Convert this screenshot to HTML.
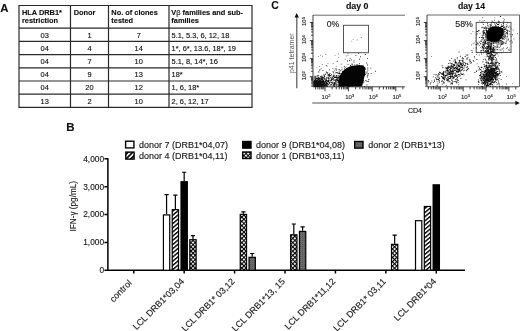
<!DOCTYPE html>
<html><head><meta charset="utf-8"><style>
html,body{margin:0;padding:0;background:#fff;width:520px;height:331px;overflow:hidden}
svg{display:block;font-family:"Liberation Sans", sans-serif;filter:blur(0.3px)}
text{stroke:#111;stroke-width:0.22px;stroke-opacity:0.6}
</style></head><body>
<svg width="520" height="331" viewBox="0 0 520 331" font-family='"Liberation Sans", sans-serif' fill="#111"><defs>
<filter id="bl2" x="-30%" y="-30%" width="160%" height="160%"><feGaussianBlur stdDeviation="2"/></filter>
<filter id="bl" x="-20%" y="-20%" width="140%" height="140%"><feGaussianBlur stdDeviation="0.7"/></filter>
<pattern id="hatch" patternUnits="userSpaceOnUse" width="3.2" height="3.2" patternTransform="rotate(-40)"><rect width="3.2" height="3.2" fill="#fff"/><rect width="3.2" height="1.4" fill="#000"/></pattern>
<pattern id="hatchL" patternUnits="userSpaceOnUse" width="3.3" height="3.3" patternTransform="translate(126 152) rotate(-45)"><rect width="3.3" height="3.3" fill="#000"/><rect y="2.5" width="3.3" height="0.8" fill="#fff"/><rect y="0" width="3.3" height="0.8" fill="#fff"/></pattern>
<pattern id="check" patternUnits="userSpaceOnUse" width="3" height="3" patternTransform="rotate(45)"><rect width="3" height="3" fill="#fff"/><rect width="3" height="1.1" fill="#000"/><rect width="1.1" height="3" fill="#000"/></pattern>
<pattern id="gray" patternUnits="userSpaceOnUse" width="2" height="2"><rect width="2" height="2" fill="#6a6a6a"/><rect width="1" height="1" fill="#555"/></pattern>
</defs><text x="0.2" y="11.8" font-size="11.4" font-weight="bold">A</text>
<path d="M18.4 5.5H252.6M18.4 28.2H252.6M18.4 41.4H252.6M18.4 54.6H252.6M18.4 67.8H252.6M18.4 81.0H252.6M18.4 94.2H252.6M18.4 107.4H252.6M19 5.5V107.4M70.5 5.5V107.4M108.5 5.5V107.4M169 5.5V107.4M252 5.5V107.4" stroke="#2a2a2a" stroke-width="1.2" fill="none"/>
<text font-size="7.42" font-weight="bold" x="21.9" y="14.8">HLA DRB1*</text>
<text font-size="7.42" font-weight="bold" x="21.9" y="22.6">restriction</text>
<text font-size="7.42" font-weight="bold" x="73.7" y="14.8">Donor</text>
<text font-size="7.42" font-weight="bold" x="111.3" y="14.8">No. of clones</text>
<text font-size="7.42" font-weight="bold" x="111.3" y="22.6">tested</text>
<text font-size="7.42" font-weight="bold" x="171.3" y="14.8">V<tspan font-weight="normal">&#946;</tspan> families and sub-</text>
<text font-size="7.42" font-weight="bold" x="171.3" y="22.6">families</text>
<text font-size="7.45" x="44.75" y="37.50" text-anchor="middle">03</text>
<text font-size="7.45" x="89.50" y="37.50" text-anchor="middle">1</text>
<text font-size="7.45" x="138.75" y="37.50" text-anchor="middle">7</text>
<text font-size="7.45" x="171.5" y="37.50">5.1, 5.3, 6, 12, 18</text>
<text font-size="7.45" x="44.75" y="50.70" text-anchor="middle">04</text>
<text font-size="7.45" x="89.50" y="50.70" text-anchor="middle">4</text>
<text font-size="7.45" x="138.75" y="50.70" text-anchor="middle">14</text>
<text font-size="7.45" x="171.5" y="50.70">1*, 6*, 13.6, 18*, 19</text>
<text font-size="7.45" x="44.75" y="63.90" text-anchor="middle">04</text>
<text font-size="7.45" x="89.50" y="63.90" text-anchor="middle">7</text>
<text font-size="7.45" x="138.75" y="63.90" text-anchor="middle">10</text>
<text font-size="7.45" x="171.5" y="63.90">5.1, 8, 14*, 16</text>
<text font-size="7.45" x="44.75" y="77.10" text-anchor="middle">04</text>
<text font-size="7.45" x="89.50" y="77.10" text-anchor="middle">9</text>
<text font-size="7.45" x="138.75" y="77.10" text-anchor="middle">13</text>
<text font-size="7.45" x="171.5" y="77.10">18*</text>
<text font-size="7.45" x="44.75" y="90.30" text-anchor="middle">04</text>
<text font-size="7.45" x="89.50" y="90.30" text-anchor="middle">20</text>
<text font-size="7.45" x="138.75" y="90.30" text-anchor="middle">12</text>
<text font-size="7.45" x="171.5" y="90.30">1, 6, 18*</text>
<text font-size="7.45" x="44.75" y="103.50" text-anchor="middle">13</text>
<text font-size="7.45" x="89.50" y="103.50" text-anchor="middle">2</text>
<text font-size="7.45" x="138.75" y="103.50" text-anchor="middle">10</text>
<text font-size="7.45" x="171.5" y="103.50">2, 6, 12, 17</text>
<text x="271.2" y="8.8" font-size="10.4" font-weight="bold">C</text>
<text x="357.2" y="8.8" font-size="8.8" font-weight="bold" text-anchor="middle">day 0</text>
<text x="471.5" y="8.9" font-size="8.7" font-weight="bold" text-anchor="middle">day 14</text>
<path d="M313 15.2H405M427 15H520M519.5 15V87" stroke="#6a6a6a" stroke-width="1" fill="none"/>
<path d="M313 15V86.8M313 86.8H404.8M309.8 76.7H313M309.8 58.6H313M309.8 40.6H313M309.8 22.5H313M311 86.15H313M311 83.89H313M311 82.14H313M311 80.71H313M311 79.50H313M311 78.45H313M311 77.53H313M311 71.26H313M311 68.08H313M311 65.82H313M311 64.07H313M311 62.64H313M311 61.43H313M311 60.38H313M311 59.46H313M311 53.19H313M311 50.01H313M311 47.75H313M311 46.00H313M311 44.57H313M311 43.36H313M311 42.31H313M311 41.39H313M311 35.12H313M311 31.94H313M311 29.68H313M311 27.93H313M311 26.50H313M311 25.29H313M311 24.24H313M311 23.32H313M325.0 86.8V91.3M348.6 86.8V91.3M372.2 86.8V91.3M395.8 86.8V91.3M315.61 86.8V89.4M317.90 86.8V89.4M319.76 86.8V89.4M321.34 86.8V89.4M322.71 86.8V89.4M323.92 86.8V89.4M332.10 86.8V89.4M336.26 86.8V89.4M339.21 86.8V89.4M341.50 86.8V89.4M343.36 86.8V89.4M344.94 86.8V89.4M346.31 86.8V89.4M347.52 86.8V89.4M355.70 86.8V89.4M359.86 86.8V89.4M362.81 86.8V89.4M365.10 86.8V89.4M366.96 86.8V89.4M368.54 86.8V89.4M369.91 86.8V89.4M371.12 86.8V89.4M379.30 86.8V89.4M383.46 86.8V89.4M386.41 86.8V89.4M388.70 86.8V89.4M390.56 86.8V89.4M392.14 86.8V89.4M393.51 86.8V89.4M394.72 86.8V89.4M402.90 86.8V89.4" stroke="#2a2a2a" stroke-width="0.9" fill="none"/>
<text font-size="6.0" transform="translate(306.1 80.2) rotate(-90)" fill="#333">10<tspan font-size="4.2" dy="-1.3">2</tspan></text>
<text font-size="6.0" transform="translate(306.1 62.1) rotate(-90)" fill="#333">10<tspan font-size="4.2" dy="-1.3">3</tspan></text>
<text font-size="6.0" transform="translate(306.1 44.1) rotate(-90)" fill="#333">10<tspan font-size="4.2" dy="-1.3">4</tspan></text>
<text font-size="6.0" transform="translate(306.1 26.0) rotate(-90)" fill="#333">10<tspan font-size="4.2" dy="-1.3">5</tspan></text>
<text font-size="6.0" x="321.60" y="98.9" fill="#333">10<tspan font-size="4.0" dy="-2.0">2</tspan></text>
<text font-size="6.0" x="345.20" y="98.9" fill="#333">10<tspan font-size="4.0" dy="-2.0">3</tspan></text>
<text font-size="6.0" x="368.80" y="98.9" fill="#333">10<tspan font-size="4.0" dy="-2.0">4</tspan></text>
<text font-size="6.0" x="392.40" y="98.9" fill="#333">10<tspan font-size="4.0" dy="-2.0">5</tspan></text>
<path d="M427 15V86.8M427 86.8H519M423.8 76.7H427M423.8 58.6H427M423.8 40.6H427M423.8 22.5H427M425 86.15H427M425 83.89H427M425 82.14H427M425 80.71H427M425 79.50H427M425 78.45H427M425 77.53H427M425 71.26H427M425 68.08H427M425 65.82H427M425 64.07H427M425 62.64H427M425 61.43H427M425 60.38H427M425 59.46H427M425 53.19H427M425 50.01H427M425 47.75H427M425 46.00H427M425 44.57H427M425 43.36H427M425 42.31H427M425 41.39H427M425 35.12H427M425 31.94H427M425 29.68H427M425 27.93H427M425 26.50H427M425 25.29H427M425 24.24H427M425 23.32H427M440.3 86.8V91.3M463.2 86.8V91.3M486.0 86.8V91.3M508.9 86.8V91.3M428.34 86.8V89.4M431.20 86.8V89.4M433.42 86.8V89.4M435.23 86.8V89.4M436.76 86.8V89.4M438.08 86.8V89.4M439.25 86.8V89.4M447.18 86.8V89.4M451.21 86.8V89.4M454.07 86.8V89.4M456.29 86.8V89.4M458.10 86.8V89.4M459.63 86.8V89.4M460.95 86.8V89.4M462.12 86.8V89.4M470.05 86.8V89.4M474.08 86.8V89.4M476.94 86.8V89.4M479.16 86.8V89.4M480.97 86.8V89.4M482.50 86.8V89.4M483.82 86.8V89.4M484.99 86.8V89.4M492.92 86.8V89.4M496.95 86.8V89.4M499.81 86.8V89.4M502.03 86.8V89.4M503.84 86.8V89.4M505.37 86.8V89.4M506.69 86.8V89.4M507.86 86.8V89.4M515.79 86.8V89.4" stroke="#2a2a2a" stroke-width="0.9" fill="none"/>
<text font-size="6.0" transform="translate(420.1 80.2) rotate(-90)" fill="#333">10<tspan font-size="4.2" dy="-1.3">2</tspan></text>
<text font-size="6.0" transform="translate(420.1 62.1) rotate(-90)" fill="#333">10<tspan font-size="4.2" dy="-1.3">3</tspan></text>
<text font-size="6.0" transform="translate(420.1 44.1) rotate(-90)" fill="#333">10<tspan font-size="4.2" dy="-1.3">4</tspan></text>
<text font-size="6.0" transform="translate(420.1 26.0) rotate(-90)" fill="#333">10<tspan font-size="4.2" dy="-1.3">5</tspan></text>
<text font-size="6.0" x="438.10" y="98.9" fill="#333">10<tspan font-size="4.0" dy="-2.0">2</tspan></text>
<text font-size="6.0" x="461.00" y="98.9" fill="#333">10<tspan font-size="4.0" dy="-2.0">3</tspan></text>
<text font-size="6.0" x="483.80" y="98.9" fill="#333">10<tspan font-size="4.0" dy="-2.0">4</tspan></text>
<text font-size="6.0" x="506.70" y="98.9" fill="#333">10<tspan font-size="4.0" dy="-2.0">5</tspan></text>
<rect x="343.5" y="25.3" width="25" height="27.4" fill="none" stroke="#555" stroke-width="1"/>
<rect x="476.2" y="22.4" width="34.8" height="30.1" fill="none" stroke="#555" stroke-width="1"/>
<text x="326.7" y="27.2" font-size="8.7" fill="#222">0%</text>
<text x="455.3" y="27.3" font-size="8.8" fill="#222">58%</text>
<path d="M296.8 17V88.2M312.2 103H516" stroke="#555" stroke-width="1.2" fill="none"/>
<path d="M296.7 13L294.5 17.4H298.9Z M519.8 103L515.4 100.8V105.2Z" fill="#111"/>
<text font-size="7.0" fill="#555" style="stroke-width:0" transform="translate(294 53.2) rotate(-90)" text-anchor="middle">p41 tetramer</text>
<text x="408" y="112.8" font-size="7" fill="#222">CD4</text>
<path d="M352.1 81.5h.9v.9h-.9zM349.3 76.9h.9v.9h-.9zM344.7 80.8h.9v.9h-.9zM361.4 74.4h.9v.9h-.9zM360.2 73.9h.9v.9h-.9zM355.4 76.6h.9v.9h-.9zM357.4 77.7h.9v.9h-.9zM333.7 76.3h.9v.9h-.9zM344.0 79.3h.9v.9h-.9zM354.0 75.8h.9v.9h-.9zM353.3 71.6h.9v.9h-.9zM355.6 78.1h.9v.9h-.9zM360.3 81.3h.9v.9h-.9zM344.9 76.5h.9v.9h-.9zM349.2 78.6h.9v.9h-.9zM357.3 75.8h.9v.9h-.9zM345.3 74.5h.9v.9h-.9zM347.2 82.7h.9v.9h-.9zM349.5 67.5h.9v.9h-.9zM357.1 84.3h.9v.9h-.9zM336.7 85.4h.9v.9h-.9zM348.3 73.6h.9v.9h-.9zM355.3 74.8h.9v.9h-.9zM360.2 79.4h.9v.9h-.9zM363.4 72.5h.9v.9h-.9zM348.1 70.0h.9v.9h-.9zM354.1 71.3h.9v.9h-.9zM344.2 72.9h.9v.9h-.9zM343.3 79.3h.9v.9h-.9zM353.6 60.4h.9v.9h-.9zM342.7 85.8h.9v.9h-.9zM364.2 73.7h.9v.9h-.9zM329.4 73.1h.9v.9h-.9zM351.8 71.8h.9v.9h-.9zM360.3 73.1h.9v.9h-.9zM355.3 78.7h.9v.9h-.9zM365.5 73.2h.9v.9h-.9zM357.6 77.9h.9v.9h-.9zM360.6 75.8h.9v.9h-.9zM335.8 83.6h.9v.9h-.9zM351.3 63.7h.9v.9h-.9zM354.5 83.9h.9v.9h-.9zM355.3 74.0h.9v.9h-.9zM356.7 79.4h.9v.9h-.9zM357.0 83.1h.9v.9h-.9zM345.8 78.5h.9v.9h-.9zM359.4 72.6h.9v.9h-.9zM360.6 68.1h.9v.9h-.9zM341.8 83.4h.9v.9h-.9zM349.9 76.6h.9v.9h-.9zM358.1 65.2h.9v.9h-.9zM356.2 64.6h.9v.9h-.9zM348.8 84.7h.9v.9h-.9zM363.1 76.7h.9v.9h-.9zM354.9 76.6h.9v.9h-.9zM355.2 79.9h.9v.9h-.9zM351.8 79.8h.9v.9h-.9zM356.0 74.8h.9v.9h-.9zM359.4 76.9h.9v.9h-.9zM367.3 69.6h.9v.9h-.9zM347.6 77.6h.9v.9h-.9zM355.3 82.5h.9v.9h-.9zM351.1 81.2h.9v.9h-.9zM355.5 54.9h.9v.9h-.9zM345.0 84.2h.9v.9h-.9zM355.7 76.9h.9v.9h-.9zM351.4 83.1h.9v.9h-.9zM352.1 73.3h.9v.9h-.9zM370.4 67.7h.9v.9h-.9zM347.7 79.6h.9v.9h-.9zM350.2 78.2h.9v.9h-.9zM354.8 66.4h.9v.9h-.9zM355.0 82.9h.9v.9h-.9zM363.5 81.4h.9v.9h-.9zM338.8 83.8h.9v.9h-.9zM351.9 82.5h.9v.9h-.9zM349.8 57.9h.9v.9h-.9zM354.3 64.5h.9v.9h-.9zM351.3 66.2h.9v.9h-.9zM357.6 83.1h.9v.9h-.9zM351.7 79.2h.9v.9h-.9zM358.1 74.4h.9v.9h-.9zM357.0 86.2h.9v.9h-.9zM358.3 70.9h.9v.9h-.9zM367.1 58.2h.9v.9h-.9zM357.4 71.7h.9v.9h-.9zM355.5 80.6h.9v.9h-.9zM355.9 79.9h.9v.9h-.9zM335.7 76.7h.9v.9h-.9zM352.8 69.4h.9v.9h-.9zM339.4 74.5h.9v.9h-.9zM363.6 75.4h.9v.9h-.9zM358.9 65.4h.9v.9h-.9zM347.8 71.4h.9v.9h-.9zM363.2 82.4h.9v.9h-.9zM358.3 71.8h.9v.9h-.9zM349.1 74.7h.9v.9h-.9zM356.3 77.8h.9v.9h-.9zM358.8 64.8h.9v.9h-.9zM365.4 80.0h.9v.9h-.9zM361.5 69.6h.9v.9h-.9zM353.3 77.6h.9v.9h-.9zM361.0 69.3h.9v.9h-.9zM352.0 72.7h.9v.9h-.9zM355.0 82.0h.9v.9h-.9zM357.4 84.2h.9v.9h-.9zM355.4 83.4h.9v.9h-.9zM368.4 79.0h.9v.9h-.9zM350.5 85.4h.9v.9h-.9zM334.9 80.7h.9v.9h-.9zM343.3 83.3h.9v.9h-.9zM350.5 78.3h.9v.9h-.9zM348.7 81.6h.9v.9h-.9zM364.7 69.1h.9v.9h-.9zM359.4 80.3h.9v.9h-.9zM346.0 71.7h.9v.9h-.9zM352.0 85.9h.9v.9h-.9zM338.3 82.2h.9v.9h-.9zM362.0 76.9h.9v.9h-.9zM355.0 81.8h.9v.9h-.9zM348.8 70.4h.9v.9h-.9zM338.7 81.6h.9v.9h-.9zM356.4 70.0h.9v.9h-.9zM342.8 77.7h.9v.9h-.9zM340.8 84.2h.9v.9h-.9zM345.1 85.1h.9v.9h-.9zM340.4 70.2h.9v.9h-.9zM356.1 72.5h.9v.9h-.9zM333.1 83.5h.9v.9h-.9zM352.4 73.6h.9v.9h-.9zM360.2 77.8h.9v.9h-.9zM357.9 76.1h.9v.9h-.9zM363.8 74.6h.9v.9h-.9zM347.5 64.2h.9v.9h-.9zM363.1 80.2h.9v.9h-.9zM348.2 76.4h.9v.9h-.9zM359.2 58.8h.9v.9h-.9zM348.0 85.7h.9v.9h-.9zM364.8 67.8h.9v.9h-.9zM359.2 79.6h.9v.9h-.9zM345.3 81.4h.9v.9h-.9zM357.1 80.5h.9v.9h-.9zM351.0 76.6h.9v.9h-.9zM343.6 80.5h.9v.9h-.9zM358.6 73.8h.9v.9h-.9zM342.9 77.1h.9v.9h-.9zM374.9 70.8h.9v.9h-.9zM347.0 60.5h.9v.9h-.9zM358.1 77.1h.9v.9h-.9zM365.4 71.7h.9v.9h-.9zM353.4 80.6h.9v.9h-.9zM351.7 72.2h.9v.9h-.9zM367.9 80.8h.9v.9h-.9zM339.7 80.7h.9v.9h-.9zM354.7 77.1h.9v.9h-.9zM345.6 74.2h.9v.9h-.9zM370.7 72.9h.9v.9h-.9zM338.7 76.0h.9v.9h-.9zM367.6 74.6h.9v.9h-.9zM367.7 73.1h.9v.9h-.9zM346.8 83.1h.9v.9h-.9zM334.1 83.9h.9v.9h-.9zM353.5 80.6h.9v.9h-.9zM346.4 80.3h.9v.9h-.9zM356.6 77.3h.9v.9h-.9zM357.2 75.6h.9v.9h-.9zM352.6 83.3h.9v.9h-.9zM349.3 72.8h.9v.9h-.9zM347.6 80.5h.9v.9h-.9zM351.8 78.9h.9v.9h-.9zM352.6 78.4h.9v.9h-.9zM346.4 71.4h.9v.9h-.9zM358.8 81.1h.9v.9h-.9zM354.4 74.4h.9v.9h-.9zM351.6 70.2h.9v.9h-.9zM348.2 85.9h.9v.9h-.9zM334.7 68.6h.9v.9h-.9zM344.3 72.0h.9v.9h-.9zM348.6 84.0h.9v.9h-.9zM356.1 76.1h.9v.9h-.9zM365.0 74.2h.9v.9h-.9zM354.0 80.8h.9v.9h-.9zM367.2 74.8h.9v.9h-.9zM355.2 66.8h.9v.9h-.9zM353.6 82.1h.9v.9h-.9zM353.8 84.7h.9v.9h-.9zM359.5 79.5h.9v.9h-.9zM359.9 70.4h.9v.9h-.9zM352.8 83.8h.9v.9h-.9zM358.9 72.8h.9v.9h-.9zM344.5 84.1h.9v.9h-.9zM358.7 81.8h.9v.9h-.9zM357.6 73.9h.9v.9h-.9zM360.0 76.3h.9v.9h-.9zM353.6 76.8h.9v.9h-.9zM352.8 82.3h.9v.9h-.9zM342.3 79.2h.9v.9h-.9zM346.7 69.6h.9v.9h-.9zM341.6 68.8h.9v.9h-.9zM349.3 83.8h.9v.9h-.9zM355.8 74.5h.9v.9h-.9zM345.2 71.0h.9v.9h-.9zM366.7 71.5h.9v.9h-.9zM356.4 67.5h.9v.9h-.9zM344.0 68.6h.9v.9h-.9zM360.9 78.8h.9v.9h-.9zM350.0 65.0h.9v.9h-.9zM335.3 80.5h.9v.9h-.9zM342.4 73.0h.9v.9h-.9zM353.1 78.7h.9v.9h-.9zM359.0 78.2h.9v.9h-.9zM366.8 76.5h.9v.9h-.9zM340.9 81.1h.9v.9h-.9zM340.6 76.8h.9v.9h-.9zM351.4 77.9h.9v.9h-.9zM349.6 66.6h.9v.9h-.9zM343.2 83.3h.9v.9h-.9zM349.5 76.8h.9v.9h-.9zM348.8 73.7h.9v.9h-.9zM358.2 76.0h.9v.9h-.9zM348.9 74.3h.9v.9h-.9zM340.8 63.7h.9v.9h-.9zM345.3 82.4h.9v.9h-.9zM342.2 85.8h.9v.9h-.9zM348.0 69.4h.9v.9h-.9zM349.1 77.0h.9v.9h-.9zM357.5 78.6h.9v.9h-.9zM348.6 73.1h.9v.9h-.9zM350.7 77.8h.9v.9h-.9zM358.2 75.6h.9v.9h-.9zM342.0 73.7h.9v.9h-.9zM346.7 75.3h.9v.9h-.9zM343.8 82.2h.9v.9h-.9zM348.9 80.4h.9v.9h-.9zM354.2 72.8h.9v.9h-.9zM367.1 64.6h.9v.9h-.9zM360.2 72.9h.9v.9h-.9zM351.1 59.4h.9v.9h-.9zM347.6 82.4h.9v.9h-.9zM359.0 82.8h.9v.9h-.9zM360.9 78.9h.9v.9h-.9zM355.0 74.2h.9v.9h-.9zM351.6 69.3h.9v.9h-.9zM356.6 66.4h.9v.9h-.9zM350.5 78.7h.9v.9h-.9zM360.3 72.1h.9v.9h-.9zM347.3 82.8h.9v.9h-.9zM358.7 78.5h.9v.9h-.9zM363.8 69.6h.9v.9h-.9zM352.3 73.9h.9v.9h-.9zM359.3 66.9h.9v.9h-.9zM355.0 71.7h.9v.9h-.9zM349.8 84.7h.9v.9h-.9zM361.3 71.0h.9v.9h-.9zM350.2 85.1h.9v.9h-.9zM352.8 79.4h.9v.9h-.9zM366.8 76.3h.9v.9h-.9zM354.9 81.7h.9v.9h-.9zM347.3 80.4h.9v.9h-.9zM357.1 64.4h.9v.9h-.9zM335.5 76.0h.9v.9h-.9zM358.6 69.4h.9v.9h-.9zM350.4 76.1h.9v.9h-.9zM347.2 72.2h.9v.9h-.9zM346.9 69.7h.9v.9h-.9zM352.6 79.5h.9v.9h-.9zM354.4 74.0h.9v.9h-.9zM346.2 82.7h.9v.9h-.9zM357.0 73.2h.9v.9h-.9zM346.1 76.0h.9v.9h-.9zM344.1 80.1h.9v.9h-.9zM356.0 78.9h.9v.9h-.9zM363.7 86.0h.9v.9h-.9zM347.1 81.0h.9v.9h-.9zM364.8 54.1h.9v.9h-.9zM349.0 80.9h.9v.9h-.9zM354.6 78.9h.9v.9h-.9zM351.7 80.6h.9v.9h-.9zM355.2 81.4h.9v.9h-.9zM335.5 81.8h.9v.9h-.9zM348.2 72.0h.9v.9h-.9zM347.0 85.9h.9v.9h-.9zM349.8 84.0h.9v.9h-.9zM358.4 75.6h.9v.9h-.9zM355.2 74.5h.9v.9h-.9zM342.0 84.1h.9v.9h-.9zM353.2 72.5h.9v.9h-.9zM354.1 82.0h.9v.9h-.9zM348.2 85.1h.9v.9h-.9zM363.0 65.6h.9v.9h-.9zM352.5 76.0h.9v.9h-.9zM364.0 71.8h.9v.9h-.9zM355.8 69.5h.9v.9h-.9zM351.9 77.5h.9v.9h-.9zM351.9 63.8h.9v.9h-.9zM356.7 73.2h.9v.9h-.9zM356.5 77.3h.9v.9h-.9zM340.7 83.6h.9v.9h-.9zM360.4 67.3h.9v.9h-.9zM339.8 75.1h.9v.9h-.9zM344.7 85.2h.9v.9h-.9zM365.5 71.7h.9v.9h-.9zM345.9 76.4h.9v.9h-.9zM357.7 77.9h.9v.9h-.9zM340.6 76.1h.9v.9h-.9zM354.9 77.4h.9v.9h-.9zM342.1 82.7h.9v.9h-.9zM349.9 82.6h.9v.9h-.9zM350.9 77.6h.9v.9h-.9zM353.4 84.8h.9v.9h-.9zM360.4 68.9h.9v.9h-.9zM355.2 69.4h.9v.9h-.9zM355.3 81.2h.9v.9h-.9zM361.2 68.2h.9v.9h-.9zM352.2 78.9h.9v.9h-.9zM341.5 84.8h.9v.9h-.9zM348.6 82.7h.9v.9h-.9zM336.8 72.3h.9v.9h-.9zM353.2 78.7h.9v.9h-.9zM351.4 84.9h.9v.9h-.9zM347.9 75.6h.9v.9h-.9zM349.6 66.8h.9v.9h-.9zM347.2 80.6h.9v.9h-.9zM357.4 72.6h.9v.9h-.9zM351.8 72.5h.9v.9h-.9zM360.2 85.0h.9v.9h-.9zM347.5 80.7h.9v.9h-.9zM357.0 82.2h.9v.9h-.9zM335.6 72.2h.9v.9h-.9zM359.2 78.9h.9v.9h-.9zM354.4 77.9h.9v.9h-.9zM359.9 75.0h.9v.9h-.9zM359.1 62.9h.9v.9h-.9zM336.7 60.8h.9v.9h-.9zM356.3 71.6h.9v.9h-.9zM366.4 84.6h.9v.9h-.9zM351.0 76.2h.9v.9h-.9zM345.4 75.4h.9v.9h-.9zM349.9 84.0h.9v.9h-.9zM352.5 77.7h.9v.9h-.9zM354.1 83.2h.9v.9h-.9zM354.9 74.4h.9v.9h-.9zM356.1 73.5h.9v.9h-.9zM351.8 70.1h.9v.9h-.9zM360.8 74.2h.9v.9h-.9zM357.6 80.7h.9v.9h-.9zM352.8 75.7h.9v.9h-.9zM351.2 75.8h.9v.9h-.9zM354.7 76.2h.9v.9h-.9zM355.4 72.3h.9v.9h-.9zM343.9 66.2h.9v.9h-.9zM351.5 83.2h.9v.9h-.9zM360.0 69.1h.9v.9h-.9zM352.4 83.0h.9v.9h-.9zM363.9 69.7h.9v.9h-.9zM358.0 67.8h.9v.9h-.9zM353.2 76.1h.9v.9h-.9zM357.0 83.0h.9v.9h-.9zM366.3 62.5h.9v.9h-.9zM349.8 82.9h.9v.9h-.9zM346.4 85.2h.9v.9h-.9zM355.0 73.3h.9v.9h-.9zM350.0 66.6h.9v.9h-.9zM351.7 65.6h.9v.9h-.9zM345.1 77.9h.9v.9h-.9zM352.3 84.0h.9v.9h-.9zM351.1 75.0h.9v.9h-.9zM361.6 83.4h.9v.9h-.9zM353.4 79.4h.9v.9h-.9zM361.7 73.0h.9v.9h-.9zM360.2 56.3h.9v.9h-.9zM353.3 79.9h.9v.9h-.9zM361.2 76.5h.9v.9h-.9zM346.2 73.2h.9v.9h-.9zM356.5 82.5h.9v.9h-.9zM340.6 77.2h.9v.9h-.9zM344.7 67.2h.9v.9h-.9zM348.6 76.4h.9v.9h-.9zM352.6 71.6h.9v.9h-.9zM344.4 79.6h.9v.9h-.9zM349.2 74.2h.9v.9h-.9zM354.8 81.5h.9v.9h-.9zM366.6 81.0h.9v.9h-.9zM345.0 79.0h.9v.9h-.9zM346.8 80.8h.9v.9h-.9zM350.7 67.7h.9v.9h-.9zM355.2 75.1h.9v.9h-.9zM353.5 61.7h.9v.9h-.9zM358.4 74.7h.9v.9h-.9zM357.0 77.6h.9v.9h-.9zM360.3 70.0h.9v.9h-.9zM356.6 71.1h.9v.9h-.9zM354.1 69.6h.9v.9h-.9zM354.5 74.5h.9v.9h-.9zM341.1 78.8h.9v.9h-.9zM356.8 81.6h.9v.9h-.9zM356.9 78.3h.9v.9h-.9zM356.7 85.0h.9v.9h-.9zM347.2 76.4h.9v.9h-.9zM358.5 73.6h.9v.9h-.9zM347.9 75.7h.9v.9h-.9zM352.5 82.1h.9v.9h-.9zM350.0 69.3h.9v.9h-.9zM355.6 76.4h.9v.9h-.9zM348.8 77.0h.9v.9h-.9zM362.4 80.8h.9v.9h-.9zM348.8 83.2h.9v.9h-.9zM350.4 85.0h.9v.9h-.9zM358.2 53.2h.9v.9h-.9zM350.8 82.3h.9v.9h-.9zM348.9 74.4h.9v.9h-.9zM367.4 67.6h.9v.9h-.9zM348.5 81.0h.9v.9h-.9zM361.3 72.1h.9v.9h-.9zM336.0 75.1h.9v.9h-.9zM363.0 75.8h.9v.9h-.9zM349.4 86.0h.9v.9h-.9zM357.9 78.6h.9v.9h-.9zM361.0 77.1h.9v.9h-.9zM349.2 60.1h.9v.9h-.9zM340.7 82.0h.9v.9h-.9zM350.2 76.2h.9v.9h-.9zM338.7 80.1h.9v.9h-.9zM343.5 78.2h.9v.9h-.9zM344.6 76.8h.9v.9h-.9zM341.1 77.9h.9v.9h-.9zM340.6 77.2h.9v.9h-.9zM333.6 84.4h.9v.9h-.9zM341.2 77.8h.9v.9h-.9zM340.8 84.0h.9v.9h-.9zM336.1 79.6h.9v.9h-.9zM342.2 82.1h.9v.9h-.9zM338.7 71.6h.9v.9h-.9zM345.0 81.3h.9v.9h-.9zM340.1 78.9h.9v.9h-.9zM341.1 78.3h.9v.9h-.9zM335.9 77.0h.9v.9h-.9zM337.6 77.6h.9v.9h-.9zM335.4 82.5h.9v.9h-.9zM334.8 82.6h.9v.9h-.9zM335.9 81.4h.9v.9h-.9zM345.5 80.8h.9v.9h-.9zM337.1 80.2h.9v.9h-.9zM340.6 73.1h.9v.9h-.9zM337.6 80.7h.9v.9h-.9zM338.1 80.3h.9v.9h-.9zM342.9 83.1h.9v.9h-.9zM343.6 82.4h.9v.9h-.9zM338.8 79.9h.9v.9h-.9zM338.9 78.7h.9v.9h-.9zM339.3 73.1h.9v.9h-.9zM338.7 79.9h.9v.9h-.9zM336.1 79.9h.9v.9h-.9zM342.1 79.3h.9v.9h-.9zM348.3 69.6h.9v.9h-.9zM339.2 72.7h.9v.9h-.9zM330.0 80.5h.9v.9h-.9zM342.1 78.8h.9v.9h-.9zM342.2 71.0h.9v.9h-.9zM343.4 81.5h.9v.9h-.9zM340.1 77.6h.9v.9h-.9zM342.6 78.1h.9v.9h-.9zM340.9 78.0h.9v.9h-.9zM331.0 79.9h.9v.9h-.9zM340.8 83.0h.9v.9h-.9zM336.5 79.9h.9v.9h-.9zM342.5 80.6h.9v.9h-.9zM336.4 72.3h.9v.9h-.9zM343.4 86.1h.9v.9h-.9zM343.7 83.3h.9v.9h-.9zM337.5 77.1h.9v.9h-.9zM343.6 76.4h.9v.9h-.9zM332.7 76.0h.9v.9h-.9zM337.3 77.1h.9v.9h-.9zM340.9 77.0h.9v.9h-.9zM345.2 79.7h.9v.9h-.9zM335.7 85.2h.9v.9h-.9zM337.7 80.9h.9v.9h-.9zM339.9 78.7h.9v.9h-.9zM341.3 77.2h.9v.9h-.9zM332.6 71.2h.9v.9h-.9zM334.9 77.0h.9v.9h-.9zM339.9 80.2h.9v.9h-.9zM342.2 80.5h.9v.9h-.9zM336.8 77.2h.9v.9h-.9zM331.5 79.3h.9v.9h-.9zM341.9 82.1h.9v.9h-.9zM339.5 79.3h.9v.9h-.9zM343.7 80.1h.9v.9h-.9zM343.0 82.3h.9v.9h-.9zM340.9 85.2h.9v.9h-.9zM337.7 78.6h.9v.9h-.9zM336.8 76.8h.9v.9h-.9zM340.1 82.3h.9v.9h-.9zM344.7 83.2h.9v.9h-.9zM344.8 74.9h.9v.9h-.9zM337.4 81.8h.9v.9h-.9zM345.7 80.4h.9v.9h-.9zM336.6 78.6h.9v.9h-.9zM337.4 76.6h.9v.9h-.9zM346.0 77.5h.9v.9h-.9zM344.7 81.3h.9v.9h-.9zM337.6 81.6h.9v.9h-.9zM346.5 82.5h.9v.9h-.9zM345.0 80.4h.9v.9h-.9zM342.1 79.2h.9v.9h-.9zM341.7 85.2h.9v.9h-.9zM334.3 79.7h.9v.9h-.9zM341.0 77.7h.9v.9h-.9zM338.8 83.1h.9v.9h-.9zM348.0 82.5h.9v.9h-.9zM341.3 73.8h.9v.9h-.9zM347.7 80.3h.9v.9h-.9zM339.9 75.5h.9v.9h-.9zM339.8 75.6h.9v.9h-.9zM340.3 81.9h.9v.9h-.9zM340.1 81.1h.9v.9h-.9zM336.6 85.7h.9v.9h-.9zM337.4 72.7h.9v.9h-.9zM339.2 76.9h.9v.9h-.9zM336.0 78.6h.9v.9h-.9zM341.2 75.3h.9v.9h-.9zM339.4 85.7h.9v.9h-.9zM342.7 79.4h.9v.9h-.9zM340.5 79.5h.9v.9h-.9zM339.8 82.9h.9v.9h-.9zM339.6 70.4h.9v.9h-.9zM339.9 76.4h.9v.9h-.9zM342.6 77.6h.9v.9h-.9zM335.8 75.5h.9v.9h-.9zM334.4 70.4h.9v.9h-.9zM332.5 81.5h.9v.9h-.9zM337.4 72.5h.9v.9h-.9zM334.1 82.5h.9v.9h-.9zM336.9 78.5h.9v.9h-.9zM341.3 85.4h.9v.9h-.9zM347.8 84.1h.9v.9h-.9zM340.6 80.7h.9v.9h-.9zM347.2 85.7h.9v.9h-.9zM338.8 81.8h.9v.9h-.9zM317.7 84.2h.9v.9h-.9zM323.3 85.7h.9v.9h-.9zM321.4 77.9h.9v.9h-.9zM328.4 80.1h.9v.9h-.9zM319.2 85.4h.9v.9h-.9zM317.2 84.5h.9v.9h-.9zM322.3 79.2h.9v.9h-.9zM318.2 84.9h.9v.9h-.9zM316.2 81.8h.9v.9h-.9zM320.6 84.3h.9v.9h-.9zM322.9 83.2h.9v.9h-.9zM321.0 80.4h.9v.9h-.9zM322.1 84.6h.9v.9h-.9zM317.7 82.9h.9v.9h-.9zM317.6 82.2h.9v.9h-.9zM320.0 84.0h.9v.9h-.9zM317.3 75.2h.9v.9h-.9zM323.0 84.1h.9v.9h-.9zM315.1 86.2h.9v.9h-.9zM313.8 80.4h.9v.9h-.9zM318.0 83.1h.9v.9h-.9zM317.0 83.5h.9v.9h-.9zM321.8 81.8h.9v.9h-.9zM316.2 79.4h.9v.9h-.9zM317.2 79.8h.9v.9h-.9zM319.3 82.4h.9v.9h-.9zM318.0 85.5h.9v.9h-.9zM314.2 85.8h.9v.9h-.9zM325.6 83.2h.9v.9h-.9zM320.7 85.9h.9v.9h-.9zM326.6 83.4h.9v.9h-.9zM315.3 80.6h.9v.9h-.9zM319.2 85.4h.9v.9h-.9zM314.8 84.5h.9v.9h-.9zM321.3 82.1h.9v.9h-.9zM313.9 77.5h.9v.9h-.9zM317.4 79.1h.9v.9h-.9zM321.4 80.1h.9v.9h-.9zM321.1 85.9h.9v.9h-.9zM317.9 79.0h.9v.9h-.9zM317.0 80.9h.9v.9h-.9zM323.3 85.0h.9v.9h-.9zM322.8 82.6h.9v.9h-.9zM319.5 80.6h.9v.9h-.9zM314.7 84.9h.9v.9h-.9zM322.2 84.3h.9v.9h-.9zM322.8 82.6h.9v.9h-.9zM319.1 79.8h.9v.9h-.9zM320.6 78.7h.9v.9h-.9zM318.8 81.4h.9v.9h-.9zM318.8 82.0h.9v.9h-.9zM325.6 84.1h.9v.9h-.9zM326.6 81.3h.9v.9h-.9zM326.5 86.1h.9v.9h-.9zM324.7 80.9h.9v.9h-.9zM315.3 83.6h.9v.9h-.9zM330.7 84.6h.9v.9h-.9zM318.7 85.1h.9v.9h-.9zM314.0 85.5h.9v.9h-.9zM324.8 80.8h.9v.9h-.9zM318.7 78.1h.9v.9h-.9zM316.3 85.7h.9v.9h-.9zM313.9 84.0h.9v.9h-.9zM327.5 84.3h.9v.9h-.9zM318.3 83.7h.9v.9h-.9zM324.1 84.8h.9v.9h-.9zM317.3 83.5h.9v.9h-.9zM314.3 79.6h.9v.9h-.9zM318.3 81.6h.9v.9h-.9zM318.9 81.1h.9v.9h-.9zM325.3 85.3h.9v.9h-.9zM321.7 81.4h.9v.9h-.9zM320.8 84.8h.9v.9h-.9zM319.9 84.1h.9v.9h-.9zM323.2 81.9h.9v.9h-.9zM323.0 81.6h.9v.9h-.9zM314.3 82.0h.9v.9h-.9zM316.2 82.5h.9v.9h-.9zM316.7 84.8h.9v.9h-.9zM318.0 77.0h.9v.9h-.9zM320.6 79.0h.9v.9h-.9zM323.3 85.4h.9v.9h-.9zM318.9 84.4h.9v.9h-.9zM318.9 80.1h.9v.9h-.9zM321.7 82.3h.9v.9h-.9zM321.9 84.3h.9v.9h-.9zM322.8 83.6h.9v.9h-.9zM313.6 84.8h.9v.9h-.9zM316.6 84.5h.9v.9h-.9zM325.1 84.1h.9v.9h-.9zM316.8 84.4h.9v.9h-.9zM315.1 81.7h.9v.9h-.9zM315.6 81.9h.9v.9h-.9zM325.8 85.7h.9v.9h-.9zM315.7 82.7h.9v.9h-.9zM315.8 83.5h.9v.9h-.9zM324.7 84.4h.9v.9h-.9zM317.0 82.8h.9v.9h-.9zM313.9 84.1h.9v.9h-.9zM325.9 82.1h.9v.9h-.9zM327.2 83.1h.9v.9h-.9zM317.7 81.6h.9v.9h-.9zM320.7 84.0h.9v.9h-.9zM321.1 77.9h.9v.9h-.9zM327.0 85.6h.9v.9h-.9zM320.6 78.0h.9v.9h-.9zM322.5 79.3h.9v.9h-.9zM314.6 85.1h.9v.9h-.9zM320.0 83.0h.9v.9h-.9zM317.7 80.6h.9v.9h-.9zM316.6 81.7h.9v.9h-.9zM321.5 81.4h.9v.9h-.9zM317.5 85.9h.9v.9h-.9zM317.1 84.8h.9v.9h-.9zM321.8 83.9h.9v.9h-.9zM316.8 82.2h.9v.9h-.9zM314.8 83.9h.9v.9h-.9zM333.9 86.0h.9v.9h-.9zM320.6 81.2h.9v.9h-.9zM317.2 80.7h.9v.9h-.9zM325.7 82.2h.9v.9h-.9zM322.5 76.5h.9v.9h-.9zM316.0 84.9h.9v.9h-.9zM317.1 85.9h.9v.9h-.9zM317.7 84.5h.9v.9h-.9zM317.8 83.4h.9v.9h-.9zM334.1 81.9h.9v.9h-.9zM316.3 84.9h.9v.9h-.9zM326.7 80.0h.9v.9h-.9zM317.0 83.2h.9v.9h-.9zM318.1 79.1h.9v.9h-.9zM319.2 84.6h.9v.9h-.9zM316.4 76.4h.9v.9h-.9zM313.8 81.6h.9v.9h-.9zM320.2 85.7h.9v.9h-.9zM315.9 85.6h.9v.9h-.9zM316.2 85.8h.9v.9h-.9zM315.6 83.5h.9v.9h-.9zM315.2 81.9h.9v.9h-.9zM329.4 85.6h.9v.9h-.9zM324.4 79.0h.9v.9h-.9zM320.6 80.2h.9v.9h-.9zM319.0 80.7h.9v.9h-.9zM313.7 82.7h.9v.9h-.9zM316.4 85.1h.9v.9h-.9zM314.3 80.0h.9v.9h-.9zM318.7 86.1h.9v.9h-.9zM318.9 81.6h.9v.9h-.9zM314.0 82.1h.9v.9h-.9zM315.8 86.1h.9v.9h-.9zM329.7 83.9h.9v.9h-.9zM320.1 85.5h.9v.9h-.9zM317.6 83.3h.9v.9h-.9zM315.3 81.4h.9v.9h-.9zM317.1 83.9h.9v.9h-.9zM317.9 81.3h.9v.9h-.9zM316.2 84.2h.9v.9h-.9zM319.6 80.6h.9v.9h-.9zM319.6 82.8h.9v.9h-.9zM315.1 81.9h.9v.9h-.9zM318.3 84.7h.9v.9h-.9zM315.4 86.1h.9v.9h-.9zM319.0 80.1h.9v.9h-.9zM316.7 85.1h.9v.9h-.9zM315.3 80.7h.9v.9h-.9zM315.6 82.9h.9v.9h-.9zM318.0 81.3h.9v.9h-.9zM322.5 78.6h.9v.9h-.9zM314.9 84.0h.9v.9h-.9zM321.8 82.1h.9v.9h-.9zM319.3 82.2h.9v.9h-.9zM323.3 84.1h.9v.9h-.9zM320.9 78.1h.9v.9h-.9zM322.7 82.9h.9v.9h-.9zM314.8 83.8h.9v.9h-.9zM320.2 83.5h.9v.9h-.9zM317.2 85.4h.9v.9h-.9zM318.7 84.3h.9v.9h-.9zM314.8 82.0h.9v.9h-.9zM324.1 84.5h.9v.9h-.9zM315.2 82.6h.9v.9h-.9zM322.5 80.3h.9v.9h-.9zM319.0 84.5h.9v.9h-.9zM315.4 85.6h.9v.9h-.9zM315.9 82.1h.9v.9h-.9zM322.5 77.3h.9v.9h-.9zM319.9 80.7h.9v.9h-.9zM316.9 81.1h.9v.9h-.9zM320.4 77.3h.9v.9h-.9zM320.6 78.3h.9v.9h-.9zM322.8 85.3h.9v.9h-.9zM329.5 82.0h.9v.9h-.9zM313.8 83.8h.9v.9h-.9zM319.3 84.2h.9v.9h-.9zM326.2 83.0h.9v.9h-.9zM323.8 82.3h.9v.9h-.9zM320.5 77.8h.9v.9h-.9zM317.2 83.4h.9v.9h-.9zM313.9 81.7h.9v.9h-.9zM320.7 83.2h.9v.9h-.9zM322.9 83.0h.9v.9h-.9zM318.3 85.2h.9v.9h-.9zM322.4 86.1h.9v.9h-.9zM320.4 80.3h.9v.9h-.9zM321.6 84.2h.9v.9h-.9zM318.9 82.2h.9v.9h-.9zM317.2 85.0h.9v.9h-.9zM320.5 81.5h.9v.9h-.9zM321.5 85.2h.9v.9h-.9zM319.3 85.4h.9v.9h-.9zM325.5 82.7h.9v.9h-.9zM319.1 80.5h.9v.9h-.9zM315.3 78.7h.9v.9h-.9zM316.4 80.4h.9v.9h-.9zM318.1 79.1h.9v.9h-.9zM318.7 83.1h.9v.9h-.9zM316.4 83.8h.9v.9h-.9zM316.8 79.8h.9v.9h-.9zM318.6 77.6h.9v.9h-.9zM315.2 81.4h.9v.9h-.9zM318.7 77.9h.9v.9h-.9zM313.8 83.3h.9v.9h-.9zM320.7 82.6h.9v.9h-.9zM322.3 78.9h.9v.9h-.9zM319.9 83.4h.9v.9h-.9zM317.9 84.1h.9v.9h-.9zM325.1 81.4h.9v.9h-.9zM313.6 81.1h.9v.9h-.9zM320.7 85.8h.9v.9h-.9zM322.8 83.2h.9v.9h-.9zM321.5 83.9h.9v.9h-.9zM327.1 83.2h.9v.9h-.9zM323.2 81.0h.9v.9h-.9zM323.8 75.2h.9v.9h-.9zM320.8 81.8h.9v.9h-.9zM317.4 85.9h.9v.9h-.9zM314.8 83.3h.9v.9h-.9zM321.1 84.1h.9v.9h-.9zM320.4 80.4h.9v.9h-.9zM314.0 82.2h.9v.9h-.9zM318.5 85.3h.9v.9h-.9zM316.2 82.5h.9v.9h-.9zM319.0 85.2h.9v.9h-.9zM316.9 84.2h.9v.9h-.9zM316.7 81.2h.9v.9h-.9zM314.8 81.1h.9v.9h-.9zM316.0 85.0h.9v.9h-.9zM326.7 81.4h.9v.9h-.9zM318.1 81.5h.9v.9h-.9zM315.2 81.8h.9v.9h-.9zM316.2 86.0h.9v.9h-.9zM320.9 83.5h.9v.9h-.9zM314.2 84.7h.9v.9h-.9zM316.1 84.9h.9v.9h-.9zM320.0 85.4h.9v.9h-.9zM317.6 82.6h.9v.9h-.9zM317.2 82.2h.9v.9h-.9zM314.7 81.6h.9v.9h-.9zM322.4 81.5h.9v.9h-.9zM318.1 82.8h.9v.9h-.9zM314.0 84.9h.9v.9h-.9zM315.4 85.1h.9v.9h-.9zM314.4 86.1h.9v.9h-.9zM324.7 81.0h.9v.9h-.9zM324.8 79.7h.9v.9h-.9zM319.3 85.9h.9v.9h-.9zM324.9 84.9h.9v.9h-.9zM314.6 81.7h.9v.9h-.9zM319.2 81.6h.9v.9h-.9zM315.1 79.0h.9v.9h-.9zM317.7 84.2h.9v.9h-.9zM318.1 85.8h.9v.9h-.9zM321.0 84.7h.9v.9h-.9zM320.2 80.5h.9v.9h-.9zM315.0 81.6h.9v.9h-.9zM315.8 84.1h.9v.9h-.9zM321.2 79.2h.9v.9h-.9zM315.6 84.9h.9v.9h-.9zM321.0 80.5h.9v.9h-.9zM320.3 84.7h.9v.9h-.9zM316.0 82.6h.9v.9h-.9zM314.0 81.0h.9v.9h-.9zM315.8 78.0h.9v.9h-.9zM315.5 85.4h.9v.9h-.9zM321.9 82.9h.9v.9h-.9zM324.3 81.9h.9v.9h-.9zM315.2 78.0h.9v.9h-.9zM324.8 85.7h.9v.9h-.9zM318.8 83.3h.9v.9h-.9zM316.1 83.0h.9v.9h-.9zM324.4 83.1h.9v.9h-.9zM321.3 85.1h.9v.9h-.9zM314.8 85.6h.9v.9h-.9zM313.6 79.4h.9v.9h-.9zM321.1 82.8h.9v.9h-.9zM317.1 78.0h.9v.9h-.9zM319.7 85.7h.9v.9h-.9zM320.5 85.0h.9v.9h-.9zM313.6 85.5h.9v.9h-.9zM316.8 84.2h.9v.9h-.9zM326.0 83.7h.9v.9h-.9zM323.7 83.5h.9v.9h-.9zM315.3 83.9h.9v.9h-.9zM323.6 81.8h.9v.9h-.9zM316.1 85.7h.9v.9h-.9zM326.2 85.0h.9v.9h-.9zM318.7 81.7h.9v.9h-.9zM323.8 78.0h.9v.9h-.9zM320.8 79.4h.9v.9h-.9zM314.2 85.8h.9v.9h-.9zM318.4 81.5h.9v.9h-.9zM316.1 84.9h.9v.9h-.9zM320.0 79.5h.9v.9h-.9zM328.0 79.7h.9v.9h-.9zM313.9 83.4h.9v.9h-.9zM314.6 82.2h.9v.9h-.9zM317.4 84.5h.9v.9h-.9zM315.9 83.8h.9v.9h-.9zM322.4 78.7h.9v.9h-.9zM317.5 80.7h.9v.9h-.9zM319.0 82.9h.9v.9h-.9zM316.9 85.3h.9v.9h-.9zM328.9 82.7h.9v.9h-.9zM326.8 77.5h.9v.9h-.9zM324.1 82.9h.9v.9h-.9zM316.8 83.0h.9v.9h-.9zM322.6 82.9h.9v.9h-.9zM319.8 84.4h.9v.9h-.9zM318.9 85.3h.9v.9h-.9zM321.8 81.4h.9v.9h-.9zM315.9 85.4h.9v.9h-.9zM313.9 83.3h.9v.9h-.9zM314.0 84.7h.9v.9h-.9zM316.1 82.4h.9v.9h-.9zM325.6 83.7h.9v.9h-.9zM323.5 83.0h.9v.9h-.9zM316.5 82.3h.9v.9h-.9zM316.3 82.9h.9v.9h-.9zM324.0 84.4h.9v.9h-.9zM314.3 80.7h.9v.9h-.9zM322.4 81.1h.9v.9h-.9zM321.4 81.0h.9v.9h-.9zM326.5 80.8h.9v.9h-.9zM320.2 86.2h.9v.9h-.9zM314.8 76.2h.9v.9h-.9zM315.7 83.1h.9v.9h-.9zM313.8 83.1h.9v.9h-.9zM313.9 81.8h.9v.9h-.9zM320.2 80.4h.9v.9h-.9zM316.9 84.4h.9v.9h-.9zM321.3 81.2h.9v.9h-.9zM316.9 83.8h.9v.9h-.9zM314.1 85.5h.9v.9h-.9zM316.5 83.2h.9v.9h-.9zM319.4 81.4h.9v.9h-.9zM321.8 80.9h.9v.9h-.9zM320.8 85.3h.9v.9h-.9zM314.5 83.5h.9v.9h-.9zM323.9 84.2h.9v.9h-.9zM315.4 84.6h.9v.9h-.9zM319.2 84.5h.9v.9h-.9zM313.7 81.8h.9v.9h-.9zM317.6 84.0h.9v.9h-.9zM323.2 80.0h.9v.9h-.9zM319.4 77.8h.9v.9h-.9zM324.4 82.2h.9v.9h-.9zM315.5 80.2h.9v.9h-.9zM321.1 85.1h.9v.9h-.9zM314.1 85.4h.9v.9h-.9zM328.1 84.3h.9v.9h-.9zM317.1 85.0h.9v.9h-.9zM314.9 80.0h.9v.9h-.9zM321.1 82.9h.9v.9h-.9zM323.0 82.0h.9v.9h-.9zM319.3 85.0h.9v.9h-.9zM322.3 85.5h.9v.9h-.9zM319.9 82.5h.9v.9h-.9zM315.9 84.7h.9v.9h-.9zM318.4 86.2h.9v.9h-.9zM314.8 81.8h.9v.9h-.9zM313.6 82.3h.9v.9h-.9zM314.4 75.8h.9v.9h-.9zM314.0 83.2h.9v.9h-.9zM320.5 77.9h.9v.9h-.9zM314.2 85.5h.9v.9h-.9zM322.1 80.8h.9v.9h-.9zM319.7 83.0h.9v.9h-.9zM313.6 81.4h.9v.9h-.9zM321.8 85.2h.9v.9h-.9zM324.1 85.3h.9v.9h-.9zM315.0 84.1h.9v.9h-.9zM322.9 82.1h.9v.9h-.9zM318.0 83.9h.9v.9h-.9zM314.7 85.2h.9v.9h-.9zM317.9 85.5h.9v.9h-.9zM316.3 82.6h.9v.9h-.9zM318.5 80.9h.9v.9h-.9zM315.7 81.5h.9v.9h-.9zM316.8 81.3h.9v.9h-.9zM318.3 75.3h.9v.9h-.9zM316.5 84.3h.9v.9h-.9zM316.9 81.0h.9v.9h-.9zM320.3 83.8h.9v.9h-.9zM316.1 82.6h.9v.9h-.9zM319.2 84.3h.9v.9h-.9zM322.6 85.4h.9v.9h-.9zM321.3 82.9h.9v.9h-.9zM318.2 85.6h.9v.9h-.9zM315.0 76.8h.9v.9h-.9zM316.8 84.7h.9v.9h-.9zM316.8 81.7h.9v.9h-.9zM323.0 83.6h.9v.9h-.9zM318.1 80.6h.9v.9h-.9zM323.9 85.8h.9v.9h-.9zM323.2 85.5h.9v.9h-.9zM323.9 82.5h.9v.9h-.9zM316.5 86.1h.9v.9h-.9zM316.5 79.4h.9v.9h-.9zM319.2 82.2h.9v.9h-.9zM316.1 78.0h.9v.9h-.9zM326.5 83.8h.9v.9h-.9zM314.7 76.6h.9v.9h-.9zM323.9 75.1h.9v.9h-.9zM318.3 71.5h.9v.9h-.9zM319.6 84.1h.9v.9h-.9zM332.5 78.6h.9v.9h-.9zM346.9 72.7h.9v.9h-.9zM328.2 80.9h.9v.9h-.9zM343.5 85.2h.9v.9h-.9zM331.8 82.7h.9v.9h-.9zM328.4 77.7h.9v.9h-.9zM329.1 69.4h.9v.9h-.9zM330.8 80.4h.9v.9h-.9zM328.7 78.6h.9v.9h-.9zM324.2 78.4h.9v.9h-.9zM325.9 80.1h.9v.9h-.9zM333.4 85.5h.9v.9h-.9zM332.5 85.2h.9v.9h-.9zM325.7 79.0h.9v.9h-.9zM322.9 83.0h.9v.9h-.9zM335.1 79.5h.9v.9h-.9zM338.7 77.3h.9v.9h-.9zM327.5 82.8h.9v.9h-.9zM328.2 81.7h.9v.9h-.9zM336.2 83.9h.9v.9h-.9zM320.8 81.1h.9v.9h-.9zM328.2 80.3h.9v.9h-.9zM327.3 72.4h.9v.9h-.9zM321.4 75.8h.9v.9h-.9zM325.9 65.2h.9v.9h-.9zM338.1 76.9h.9v.9h-.9zM323.5 81.0h.9v.9h-.9zM323.0 81.5h.9v.9h-.9zM325.4 80.5h.9v.9h-.9zM329.7 80.2h.9v.9h-.9zM319.2 69.5h.9v.9h-.9zM324.7 81.4h.9v.9h-.9zM329.4 82.6h.9v.9h-.9zM337.6 75.0h.9v.9h-.9zM331.0 79.7h.9v.9h-.9zM328.2 75.4h.9v.9h-.9zM325.4 73.6h.9v.9h-.9zM340.1 83.5h.9v.9h-.9zM335.2 77.0h.9v.9h-.9zM330.2 75.3h.9v.9h-.9zM328.9 74.9h.9v.9h-.9zM320.2 76.1h.9v.9h-.9zM327.6 75.4h.9v.9h-.9zM324.6 73.9h.9v.9h-.9zM318.1 78.0h.9v.9h-.9zM321.7 76.9h.9v.9h-.9zM328.9 82.8h.9v.9h-.9zM337.2 79.7h.9v.9h-.9zM321.2 76.6h.9v.9h-.9zM331.9 77.3h.9v.9h-.9zM319.2 78.8h.9v.9h-.9zM338.4 73.1h.9v.9h-.9zM330.7 79.4h.9v.9h-.9zM317.8 83.3h.9v.9h-.9zM331.1 78.2h.9v.9h-.9zM331.0 83.9h.9v.9h-.9zM333.2 84.3h.9v.9h-.9zM333.4 75.3h.9v.9h-.9zM326.1 79.7h.9v.9h-.9zM328.0 74.3h.9v.9h-.9zM316.8 77.5h.9v.9h-.9zM330.1 77.3h.9v.9h-.9zM327.6 75.0h.9v.9h-.9zM324.3 78.0h.9v.9h-.9zM323.8 81.9h.9v.9h-.9zM327.9 80.3h.9v.9h-.9zM332.6 82.3h.9v.9h-.9zM329.1 75.9h.9v.9h-.9zM325.8 82.5h.9v.9h-.9zM331.0 78.7h.9v.9h-.9zM322.5 70.2h.9v.9h-.9zM329.6 85.4h.9v.9h-.9zM333.4 74.4h.9v.9h-.9zM327.3 80.6h.9v.9h-.9zM322.5 79.8h.9v.9h-.9zM328.9 75.7h.9v.9h-.9zM319.7 81.3h.9v.9h-.9zM332.6 76.6h.9v.9h-.9zM321.1 82.1h.9v.9h-.9zM333.3 79.8h.9v.9h-.9zM339.8 81.9h.9v.9h-.9zM320.5 83.0h.9v.9h-.9zM327.3 81.2h.9v.9h-.9zM330.7 75.4h.9v.9h-.9zM321.5 76.7h.9v.9h-.9zM339.6 78.2h.9v.9h-.9zM337.5 83.8h.9v.9h-.9zM321.4 79.0h.9v.9h-.9zM334.0 77.0h.9v.9h-.9zM314.6 77.4h.9v.9h-.9zM321.1 79.8h.9v.9h-.9zM316.8 75.5h.9v.9h-.9zM325.9 71.5h.9v.9h-.9zM327.2 80.3h.9v.9h-.9zM327.1 73.4h.9v.9h-.9zM332.9 72.3h.9v.9h-.9zM331.8 83.4h.9v.9h-.9zM330.9 81.9h.9v.9h-.9zM331.1 73.9h.9v.9h-.9zM337.8 85.4h.9v.9h-.9zM328.8 74.1h.9v.9h-.9zM337.9 85.5h.9v.9h-.9zM320.3 80.7h.9v.9h-.9zM341.4 83.7h.9v.9h-.9zM332.2 78.9h.9v.9h-.9zM323.4 83.7h.9v.9h-.9zM327.1 83.4h.9v.9h-.9zM326.0 82.8h.9v.9h-.9zM335.8 76.9h.9v.9h-.9zM322.1 77.5h.9v.9h-.9zM334.0 83.0h.9v.9h-.9zM339.0 76.1h.9v.9h-.9zM333.1 78.1h.9v.9h-.9zM329.2 81.7h.9v.9h-.9zM323.0 77.0h.9v.9h-.9zM321.1 78.9h.9v.9h-.9zM324.2 76.0h.9v.9h-.9zM331.4 77.4h.9v.9h-.9zM337.4 79.4h.9v.9h-.9zM334.1 83.0h.9v.9h-.9zM322.6 76.9h.9v.9h-.9zM324.1 76.6h.9v.9h-.9zM333.8 74.8h.9v.9h-.9zM315.1 79.3h.9v.9h-.9zM335.1 83.9h.9v.9h-.9zM328.0 78.4h.9v.9h-.9zM331.1 79.1h.9v.9h-.9zM326.1 77.2h.9v.9h-.9zM337.5 79.5h.9v.9h-.9zM333.1 75.4h.9v.9h-.9zM326.4 72.2h.9v.9h-.9zM326.7 82.8h.9v.9h-.9zM331.7 78.3h.9v.9h-.9zM333.5 79.6h.9v.9h-.9zM331.0 82.0h.9v.9h-.9zM336.0 69.6h.9v.9h-.9zM319.5 81.0h.9v.9h-.9zM328.3 77.0h.9v.9h-.9zM337.9 85.6h.9v.9h-.9zM340.6 86.2h.9v.9h-.9zM326.6 82.9h.9v.9h-.9zM324.5 76.4h.9v.9h-.9zM325.7 77.9h.9v.9h-.9zM334.7 79.3h.9v.9h-.9zM331.8 78.3h.9v.9h-.9zM338.7 69.0h.9v.9h-.9zM327.4 80.4h.9v.9h-.9zM320.6 82.5h.9v.9h-.9zM334.3 84.9h.9v.9h-.9zM329.6 74.7h.9v.9h-.9zM328.2 77.4h.9v.9h-.9zM331.3 78.4h.9v.9h-.9zM351.0 78.7h.9v.9h-.9zM337.3 80.2h.9v.9h-.9zM326.1 83.8h.9v.9h-.9zM490.4 33.6h.9v.9h-.9zM484.3 32.1h.9v.9h-.9zM493.8 32.4h.9v.9h-.9zM497.8 40.9h.9v.9h-.9zM496.7 33.2h.9v.9h-.9zM486.1 31.2h.9v.9h-.9zM495.6 28.9h.9v.9h-.9zM495.6 27.7h.9v.9h-.9zM495.7 33.3h.9v.9h-.9zM500.1 29.9h.9v.9h-.9zM493.3 36.0h.9v.9h-.9zM498.4 42.3h.9v.9h-.9zM492.5 31.9h.9v.9h-.9zM494.0 37.0h.9v.9h-.9zM497.6 36.9h.9v.9h-.9zM491.4 49.3h.9v.9h-.9zM505.8 29.9h.9v.9h-.9zM488.2 37.4h.9v.9h-.9zM493.4 22.0h.9v.9h-.9zM492.4 26.6h.9v.9h-.9zM500.2 39.9h.9v.9h-.9zM498.3 24.3h.9v.9h-.9zM504.8 35.5h.9v.9h-.9zM493.8 37.3h.9v.9h-.9zM503.3 29.1h.9v.9h-.9zM493.9 31.3h.9v.9h-.9zM497.9 20.8h.9v.9h-.9zM501.6 26.1h.9v.9h-.9zM497.5 23.9h.9v.9h-.9zM488.4 33.0h.9v.9h-.9zM496.9 24.2h.9v.9h-.9zM497.4 29.5h.9v.9h-.9zM501.7 29.8h.9v.9h-.9zM497.5 32.1h.9v.9h-.9zM504.9 28.4h.9v.9h-.9zM498.5 43.9h.9v.9h-.9zM496.7 37.2h.9v.9h-.9zM491.0 36.6h.9v.9h-.9zM481.9 39.4h.9v.9h-.9zM488.5 27.9h.9v.9h-.9zM488.8 42.7h.9v.9h-.9zM494.8 25.5h.9v.9h-.9zM504.4 26.7h.9v.9h-.9zM493.3 36.0h.9v.9h-.9zM485.4 28.4h.9v.9h-.9zM492.8 41.5h.9v.9h-.9zM497.7 24.1h.9v.9h-.9zM502.1 31.6h.9v.9h-.9zM498.0 33.2h.9v.9h-.9zM495.6 28.1h.9v.9h-.9zM488.4 32.5h.9v.9h-.9zM494.0 37.9h.9v.9h-.9zM490.7 44.5h.9v.9h-.9zM490.2 32.4h.9v.9h-.9zM499.9 34.6h.9v.9h-.9zM491.1 29.4h.9v.9h-.9zM486.2 28.2h.9v.9h-.9zM503.7 36.9h.9v.9h-.9zM506.9 32.5h.9v.9h-.9zM498.3 37.1h.9v.9h-.9zM500.1 30.7h.9v.9h-.9zM501.0 44.0h.9v.9h-.9zM482.5 30.6h.9v.9h-.9zM490.7 39.8h.9v.9h-.9zM501.4 29.8h.9v.9h-.9zM498.9 32.3h.9v.9h-.9zM495.8 30.7h.9v.9h-.9zM494.8 34.0h.9v.9h-.9zM505.7 42.7h.9v.9h-.9zM485.3 40.5h.9v.9h-.9zM496.7 38.8h.9v.9h-.9zM502.7 35.6h.9v.9h-.9zM498.0 27.5h.9v.9h-.9zM488.0 46.0h.9v.9h-.9zM500.4 26.7h.9v.9h-.9zM503.8 34.5h.9v.9h-.9zM482.2 43.7h.9v.9h-.9zM491.3 41.9h.9v.9h-.9zM489.6 31.8h.9v.9h-.9zM485.5 36.2h.9v.9h-.9zM499.8 28.5h.9v.9h-.9zM488.0 48.7h.9v.9h-.9zM507.1 33.5h.9v.9h-.9zM489.6 29.1h.9v.9h-.9zM486.4 40.3h.9v.9h-.9zM500.7 25.9h.9v.9h-.9zM494.5 32.6h.9v.9h-.9zM494.4 37.0h.9v.9h-.9zM506.2 26.3h.9v.9h-.9zM502.0 37.6h.9v.9h-.9zM493.1 33.9h.9v.9h-.9zM489.1 42.3h.9v.9h-.9zM490.7 31.9h.9v.9h-.9zM493.8 29.6h.9v.9h-.9zM488.3 34.8h.9v.9h-.9zM503.4 29.8h.9v.9h-.9zM495.4 25.6h.9v.9h-.9zM486.8 47.2h.9v.9h-.9zM489.9 27.2h.9v.9h-.9zM495.5 37.3h.9v.9h-.9zM483.2 33.3h.9v.9h-.9zM494.9 28.8h.9v.9h-.9zM501.4 37.1h.9v.9h-.9zM496.8 30.9h.9v.9h-.9zM493.6 30.9h.9v.9h-.9zM494.8 35.9h.9v.9h-.9zM495.0 39.5h.9v.9h-.9zM509.3 25.7h.9v.9h-.9zM498.5 37.4h.9v.9h-.9zM498.4 31.4h.9v.9h-.9zM494.0 40.0h.9v.9h-.9zM499.6 35.2h.9v.9h-.9zM491.4 38.9h.9v.9h-.9zM499.3 31.4h.9v.9h-.9zM502.8 43.4h.9v.9h-.9zM485.0 41.1h.9v.9h-.9zM485.6 29.7h.9v.9h-.9zM494.6 37.2h.9v.9h-.9zM493.2 28.1h.9v.9h-.9zM485.5 34.3h.9v.9h-.9zM493.6 29.8h.9v.9h-.9zM489.3 46.0h.9v.9h-.9zM489.8 35.0h.9v.9h-.9zM490.7 32.3h.9v.9h-.9zM494.7 32.4h.9v.9h-.9zM496.5 26.7h.9v.9h-.9zM489.8 46.9h.9v.9h-.9zM496.0 38.0h.9v.9h-.9zM503.0 34.2h.9v.9h-.9zM492.4 26.1h.9v.9h-.9zM487.3 42.3h.9v.9h-.9zM500.0 35.4h.9v.9h-.9zM481.3 26.9h.9v.9h-.9zM486.6 30.4h.9v.9h-.9zM494.1 28.5h.9v.9h-.9zM503.2 27.5h.9v.9h-.9zM493.3 39.5h.9v.9h-.9zM495.3 28.8h.9v.9h-.9zM503.4 41.9h.9v.9h-.9zM487.3 35.4h.9v.9h-.9zM485.1 26.6h.9v.9h-.9zM500.0 36.1h.9v.9h-.9zM501.6 34.0h.9v.9h-.9zM483.0 38.2h.9v.9h-.9zM488.9 29.5h.9v.9h-.9zM489.8 40.2h.9v.9h-.9zM496.8 44.5h.9v.9h-.9zM494.3 23.4h.9v.9h-.9zM502.6 38.3h.9v.9h-.9zM493.0 27.8h.9v.9h-.9zM503.1 23.6h.9v.9h-.9zM491.0 24.6h.9v.9h-.9zM484.4 28.2h.9v.9h-.9zM503.6 37.6h.9v.9h-.9zM490.1 28.1h.9v.9h-.9zM495.3 36.0h.9v.9h-.9zM483.8 31.5h.9v.9h-.9zM495.7 37.8h.9v.9h-.9zM496.3 36.1h.9v.9h-.9zM483.0 24.2h.9v.9h-.9zM495.2 28.7h.9v.9h-.9zM493.6 32.4h.9v.9h-.9zM496.4 29.1h.9v.9h-.9zM503.7 31.0h.9v.9h-.9zM499.3 36.0h.9v.9h-.9zM501.9 33.8h.9v.9h-.9zM483.4 34.6h.9v.9h-.9zM507.0 32.3h.9v.9h-.9zM499.2 35.1h.9v.9h-.9zM489.9 32.0h.9v.9h-.9zM493.3 41.3h.9v.9h-.9zM500.5 42.2h.9v.9h-.9zM501.5 42.5h.9v.9h-.9zM495.6 27.0h.9v.9h-.9zM506.0 31.9h.9v.9h-.9zM502.5 32.5h.9v.9h-.9zM493.4 35.6h.9v.9h-.9zM486.1 30.4h.9v.9h-.9zM488.7 33.3h.9v.9h-.9zM486.7 36.4h.9v.9h-.9zM500.6 43.6h.9v.9h-.9zM505.9 29.7h.9v.9h-.9zM499.9 31.0h.9v.9h-.9zM497.3 33.0h.9v.9h-.9zM491.9 35.6h.9v.9h-.9zM486.9 39.5h.9v.9h-.9zM491.3 29.1h.9v.9h-.9zM493.9 37.6h.9v.9h-.9zM491.8 37.9h.9v.9h-.9zM501.3 40.7h.9v.9h-.9zM488.3 35.8h.9v.9h-.9zM500.9 40.5h.9v.9h-.9zM498.0 37.3h.9v.9h-.9zM485.1 34.3h.9v.9h-.9zM504.5 28.9h.9v.9h-.9zM506.7 25.5h.9v.9h-.9zM490.4 26.5h.9v.9h-.9zM499.3 33.9h.9v.9h-.9zM507.5 30.4h.9v.9h-.9zM490.9 27.4h.9v.9h-.9zM496.3 39.0h.9v.9h-.9zM501.7 38.6h.9v.9h-.9zM500.1 31.9h.9v.9h-.9zM499.0 33.5h.9v.9h-.9zM490.2 45.7h.9v.9h-.9zM495.3 27.8h.9v.9h-.9zM497.9 34.6h.9v.9h-.9zM503.7 39.2h.9v.9h-.9zM477.7 43.5h.9v.9h-.9zM502.5 25.8h.9v.9h-.9zM484.3 39.5h.9v.9h-.9zM497.7 35.0h.9v.9h-.9zM487.4 34.1h.9v.9h-.9zM497.6 37.4h.9v.9h-.9zM508.8 30.7h.9v.9h-.9zM487.0 23.3h.9v.9h-.9zM501.2 31.0h.9v.9h-.9zM492.5 29.2h.9v.9h-.9zM496.1 23.2h.9v.9h-.9zM495.9 34.4h.9v.9h-.9zM499.3 40.0h.9v.9h-.9zM494.6 34.7h.9v.9h-.9zM497.3 24.2h.9v.9h-.9zM493.4 35.0h.9v.9h-.9zM499.3 27.8h.9v.9h-.9zM500.6 34.2h.9v.9h-.9zM483.2 29.7h.9v.9h-.9zM486.6 37.9h.9v.9h-.9zM497.6 37.3h.9v.9h-.9zM498.9 29.4h.9v.9h-.9zM503.0 35.8h.9v.9h-.9zM498.8 35.4h.9v.9h-.9zM487.9 38.7h.9v.9h-.9zM486.5 30.2h.9v.9h-.9zM493.1 35.5h.9v.9h-.9zM494.1 32.4h.9v.9h-.9zM489.3 37.2h.9v.9h-.9zM487.9 28.4h.9v.9h-.9zM498.3 41.3h.9v.9h-.9zM490.6 29.4h.9v.9h-.9zM506.6 39.7h.9v.9h-.9zM492.8 33.6h.9v.9h-.9zM501.8 48.7h.9v.9h-.9zM497.7 38.8h.9v.9h-.9zM494.3 23.7h.9v.9h-.9zM486.0 30.1h.9v.9h-.9zM497.8 33.6h.9v.9h-.9zM505.4 28.6h.9v.9h-.9zM497.0 33.7h.9v.9h-.9zM500.2 45.6h.9v.9h-.9zM499.5 40.9h.9v.9h-.9zM501.8 28.0h.9v.9h-.9zM498.5 30.5h.9v.9h-.9zM496.0 34.6h.9v.9h-.9zM494.2 31.5h.9v.9h-.9zM504.0 29.2h.9v.9h-.9zM502.4 41.1h.9v.9h-.9zM500.7 37.9h.9v.9h-.9zM505.5 36.5h.9v.9h-.9zM502.8 22.8h.9v.9h-.9zM507.0 29.8h.9v.9h-.9zM483.2 34.6h.9v.9h-.9zM486.5 37.0h.9v.9h-.9zM484.0 32.1h.9v.9h-.9zM497.1 34.2h.9v.9h-.9zM489.7 34.6h.9v.9h-.9zM494.5 34.6h.9v.9h-.9zM494.5 32.9h.9v.9h-.9zM497.3 23.8h.9v.9h-.9zM492.2 35.8h.9v.9h-.9zM491.5 32.0h.9v.9h-.9zM492.7 36.1h.9v.9h-.9zM502.2 30.3h.9v.9h-.9zM494.0 36.4h.9v.9h-.9zM489.9 24.6h.9v.9h-.9zM495.9 31.5h.9v.9h-.9zM492.7 38.5h.9v.9h-.9zM494.2 31.0h.9v.9h-.9zM478.5 30.0h.9v.9h-.9zM494.9 33.4h.9v.9h-.9zM498.1 34.2h.9v.9h-.9zM489.7 28.5h.9v.9h-.9zM488.1 35.7h.9v.9h-.9zM489.4 40.5h.9v.9h-.9zM483.5 27.7h.9v.9h-.9zM490.5 25.3h.9v.9h-.9zM503.1 25.3h.9v.9h-.9zM494.2 32.9h.9v.9h-.9zM486.7 26.7h.9v.9h-.9zM485.3 42.6h.9v.9h-.9zM505.3 42.9h.9v.9h-.9zM487.1 40.2h.9v.9h-.9zM496.5 38.4h.9v.9h-.9zM493.2 38.9h.9v.9h-.9zM501.6 35.1h.9v.9h-.9zM503.5 29.9h.9v.9h-.9zM503.1 26.9h.9v.9h-.9zM500.0 16.1h.9v.9h-.9zM493.6 29.8h.9v.9h-.9zM497.0 39.3h.9v.9h-.9zM478.8 41.8h.9v.9h-.9zM488.0 38.9h.9v.9h-.9zM488.3 50.3h.9v.9h-.9zM488.0 40.0h.9v.9h-.9zM497.4 33.6h.9v.9h-.9zM483.0 44.8h.9v.9h-.9zM484.4 33.0h.9v.9h-.9zM488.1 46.6h.9v.9h-.9zM483.5 49.4h.9v.9h-.9zM489.2 48.2h.9v.9h-.9zM480.3 43.0h.9v.9h-.9zM494.0 51.8h.9v.9h-.9zM492.8 43.0h.9v.9h-.9zM487.8 40.3h.9v.9h-.9zM491.8 40.0h.9v.9h-.9zM487.5 34.0h.9v.9h-.9zM480.4 50.8h.9v.9h-.9zM487.3 43.9h.9v.9h-.9zM477.4 42.9h.9v.9h-.9zM496.1 36.4h.9v.9h-.9zM476.6 42.3h.9v.9h-.9zM484.7 42.1h.9v.9h-.9zM481.5 37.0h.9v.9h-.9zM481.6 45.8h.9v.9h-.9zM486.8 46.6h.9v.9h-.9zM482.3 45.6h.9v.9h-.9zM485.1 43.4h.9v.9h-.9zM491.1 43.1h.9v.9h-.9zM485.5 35.7h.9v.9h-.9zM487.3 46.4h.9v.9h-.9zM484.2 42.7h.9v.9h-.9zM479.2 37.1h.9v.9h-.9zM488.8 48.7h.9v.9h-.9zM485.6 35.6h.9v.9h-.9zM485.3 36.1h.9v.9h-.9zM485.8 51.5h.9v.9h-.9zM488.3 42.3h.9v.9h-.9zM491.6 41.3h.9v.9h-.9zM488.5 43.9h.9v.9h-.9zM489.0 36.5h.9v.9h-.9zM490.1 46.9h.9v.9h-.9zM476.9 31.0h.9v.9h-.9zM483.0 49.6h.9v.9h-.9zM487.1 46.0h.9v.9h-.9zM489.4 46.9h.9v.9h-.9zM484.2 40.4h.9v.9h-.9zM488.7 45.7h.9v.9h-.9zM489.5 44.5h.9v.9h-.9zM484.9 47.9h.9v.9h-.9zM489.1 47.7h.9v.9h-.9zM475.8 47.5h.9v.9h-.9zM476.2 43.9h.9v.9h-.9zM484.1 43.5h.9v.9h-.9zM484.9 41.6h.9v.9h-.9zM487.9 44.5h.9v.9h-.9zM483.5 31.8h.9v.9h-.9zM483.5 45.4h.9v.9h-.9zM483.3 44.9h.9v.9h-.9zM485.4 38.8h.9v.9h-.9zM492.2 50.4h.9v.9h-.9zM486.5 42.8h.9v.9h-.9zM491.3 37.1h.9v.9h-.9zM483.1 48.0h.9v.9h-.9zM491.0 40.8h.9v.9h-.9zM483.5 44.6h.9v.9h-.9zM480.7 40.8h.9v.9h-.9zM486.0 32.1h.9v.9h-.9zM489.6 46.4h.9v.9h-.9zM491.7 36.6h.9v.9h-.9zM481.3 39.4h.9v.9h-.9zM481.2 52.1h.9v.9h-.9zM482.7 41.6h.9v.9h-.9zM487.9 45.0h.9v.9h-.9zM493.5 38.1h.9v.9h-.9zM490.9 43.7h.9v.9h-.9zM481.8 43.7h.9v.9h-.9zM480.8 50.2h.9v.9h-.9zM483.7 47.5h.9v.9h-.9zM492.8 40.2h.9v.9h-.9zM483.0 43.6h.9v.9h-.9zM482.3 47.0h.9v.9h-.9zM487.8 39.6h.9v.9h-.9zM483.9 46.2h.9v.9h-.9zM480.5 50.5h.9v.9h-.9zM483.5 42.1h.9v.9h-.9zM482.9 50.3h.9v.9h-.9zM490.7 48.8h.9v.9h-.9zM489.9 43.4h.9v.9h-.9zM494.6 46.0h.9v.9h-.9zM489.0 45.6h.9v.9h-.9zM482.5 61.3h.9v.9h-.9zM491.2 54.7h.9v.9h-.9zM488.5 55.7h.9v.9h-.9zM486.7 54.6h.9v.9h-.9zM488.3 51.4h.9v.9h-.9zM490.7 47.7h.9v.9h-.9zM487.2 48.7h.9v.9h-.9zM488.2 57.9h.9v.9h-.9zM493.3 47.4h.9v.9h-.9zM490.7 53.8h.9v.9h-.9zM490.7 51.7h.9v.9h-.9zM489.3 46.8h.9v.9h-.9zM489.9 52.0h.9v.9h-.9zM484.8 50.4h.9v.9h-.9zM491.4 57.6h.9v.9h-.9zM489.1 53.0h.9v.9h-.9zM492.7 50.9h.9v.9h-.9zM485.4 50.0h.9v.9h-.9zM489.4 55.7h.9v.9h-.9zM493.3 52.4h.9v.9h-.9zM493.2 58.6h.9v.9h-.9zM490.3 46.7h.9v.9h-.9zM489.9 47.0h.9v.9h-.9zM489.8 55.3h.9v.9h-.9zM491.5 51.7h.9v.9h-.9zM488.5 59.8h.9v.9h-.9zM488.3 49.7h.9v.9h-.9zM487.9 51.0h.9v.9h-.9zM492.6 58.6h.9v.9h-.9zM492.5 47.7h.9v.9h-.9zM485.0 47.5h.9v.9h-.9zM487.0 55.9h.9v.9h-.9zM490.2 48.0h.9v.9h-.9zM491.2 52.9h.9v.9h-.9zM486.1 51.5h.9v.9h-.9zM488.3 56.7h.9v.9h-.9zM488.4 53.6h.9v.9h-.9zM486.5 52.9h.9v.9h-.9zM485.7 56.4h.9v.9h-.9zM485.6 46.8h.9v.9h-.9zM491.2 48.8h.9v.9h-.9zM488.1 47.5h.9v.9h-.9zM488.4 56.2h.9v.9h-.9zM489.9 49.7h.9v.9h-.9zM490.5 55.5h.9v.9h-.9zM488.1 56.3h.9v.9h-.9zM489.7 52.2h.9v.9h-.9zM489.7 53.8h.9v.9h-.9zM490.8 60.1h.9v.9h-.9zM491.2 52.9h.9v.9h-.9zM489.0 53.2h.9v.9h-.9zM486.4 53.8h.9v.9h-.9zM493.2 56.9h.9v.9h-.9zM484.8 58.8h.9v.9h-.9zM488.3 53.1h.9v.9h-.9zM486.8 48.3h.9v.9h-.9zM492.3 55.3h.9v.9h-.9zM495.6 58.9h.9v.9h-.9zM490.3 46.4h.9v.9h-.9zM494.5 46.5h.9v.9h-.9zM486.3 51.3h.9v.9h-.9zM489.9 56.4h.9v.9h-.9zM491.0 50.7h.9v.9h-.9zM493.8 55.4h.9v.9h-.9zM486.7 50.5h.9v.9h-.9zM489.4 46.0h.9v.9h-.9zM490.2 47.1h.9v.9h-.9zM496.7 53.7h.9v.9h-.9zM486.2 48.9h.9v.9h-.9zM492.7 46.9h.9v.9h-.9zM490.3 51.3h.9v.9h-.9zM489.3 46.5h.9v.9h-.9zM483.1 52.4h.9v.9h-.9zM496.9 49.0h.9v.9h-.9zM490.4 59.0h.9v.9h-.9zM496.5 53.0h.9v.9h-.9zM496.3 58.6h.9v.9h-.9zM496.3 52.7h.9v.9h-.9zM492.9 48.0h.9v.9h-.9zM490.4 50.6h.9v.9h-.9zM494.0 50.4h.9v.9h-.9zM489.9 49.1h.9v.9h-.9zM493.3 49.1h.9v.9h-.9zM490.3 51.8h.9v.9h-.9zM489.6 55.6h.9v.9h-.9zM486.5 50.6h.9v.9h-.9zM492.8 56.5h.9v.9h-.9zM495.4 52.2h.9v.9h-.9zM486.6 50.2h.9v.9h-.9zM491.7 50.9h.9v.9h-.9zM493.6 49.3h.9v.9h-.9zM488.8 58.0h.9v.9h-.9zM490.7 52.7h.9v.9h-.9zM492.4 51.9h.9v.9h-.9zM491.0 50.8h.9v.9h-.9zM488.7 57.1h.9v.9h-.9zM490.6 56.4h.9v.9h-.9zM489.3 57.4h.9v.9h-.9zM492.8 54.8h.9v.9h-.9zM494.8 54.9h.9v.9h-.9zM487.2 50.4h.9v.9h-.9zM488.1 46.7h.9v.9h-.9zM496.2 58.5h.9v.9h-.9zM492.6 59.4h.9v.9h-.9zM491.1 57.3h.9v.9h-.9zM486.7 48.1h.9v.9h-.9zM491.7 57.1h.9v.9h-.9zM493.5 50.4h.9v.9h-.9zM494.4 48.8h.9v.9h-.9zM491.3 58.6h.9v.9h-.9zM489.4 58.3h.9v.9h-.9zM492.6 51.4h.9v.9h-.9zM488.1 50.8h.9v.9h-.9zM489.8 48.1h.9v.9h-.9zM484.8 51.0h.9v.9h-.9zM492.7 50.1h.9v.9h-.9zM489.2 58.4h.9v.9h-.9zM491.5 48.3h.9v.9h-.9zM492.4 56.6h.9v.9h-.9zM490.7 58.9h.9v.9h-.9zM493.5 51.5h.9v.9h-.9zM487.4 50.1h.9v.9h-.9zM491.3 45.8h.9v.9h-.9zM487.2 46.5h.9v.9h-.9zM489.9 51.2h.9v.9h-.9zM493.7 54.9h.9v.9h-.9zM490.6 54.8h.9v.9h-.9zM490.5 55.6h.9v.9h-.9zM491.4 54.4h.9v.9h-.9zM489.7 58.4h.9v.9h-.9zM491.3 58.8h.9v.9h-.9zM486.8 54.9h.9v.9h-.9zM487.4 51.1h.9v.9h-.9zM490.3 55.1h.9v.9h-.9zM492.3 54.1h.9v.9h-.9zM489.7 49.0h.9v.9h-.9zM492.3 49.8h.9v.9h-.9zM490.3 58.9h.9v.9h-.9zM487.2 48.1h.9v.9h-.9zM491.8 58.0h.9v.9h-.9zM492.2 48.9h.9v.9h-.9zM490.6 46.2h.9v.9h-.9zM490.5 57.3h.9v.9h-.9zM493.5 56.4h.9v.9h-.9zM489.5 52.9h.9v.9h-.9zM490.2 51.3h.9v.9h-.9zM493.3 48.4h.9v.9h-.9zM495.1 57.0h.9v.9h-.9zM494.6 52.8h.9v.9h-.9zM485.9 48.2h.9v.9h-.9zM494.6 77.2h.9v.9h-.9zM494.0 69.6h.9v.9h-.9zM489.7 74.0h.9v.9h-.9zM491.3 72.3h.9v.9h-.9zM490.0 79.4h.9v.9h-.9zM487.1 78.7h.9v.9h-.9zM484.8 74.3h.9v.9h-.9zM490.9 70.4h.9v.9h-.9zM486.0 80.6h.9v.9h-.9zM490.4 84.1h.9v.9h-.9zM497.4 74.1h.9v.9h-.9zM490.2 78.4h.9v.9h-.9zM484.1 78.2h.9v.9h-.9zM490.6 75.1h.9v.9h-.9zM491.2 68.3h.9v.9h-.9zM495.7 69.2h.9v.9h-.9zM486.5 78.7h.9v.9h-.9zM492.5 81.9h.9v.9h-.9zM490.9 78.5h.9v.9h-.9zM491.2 68.4h.9v.9h-.9zM489.3 77.3h.9v.9h-.9zM483.3 76.5h.9v.9h-.9zM487.9 80.1h.9v.9h-.9zM495.7 75.6h.9v.9h-.9zM486.1 85.2h.9v.9h-.9zM490.1 82.4h.9v.9h-.9zM491.8 70.2h.9v.9h-.9zM492.3 65.0h.9v.9h-.9zM484.6 75.4h.9v.9h-.9zM488.1 77.9h.9v.9h-.9zM495.5 72.1h.9v.9h-.9zM486.4 74.4h.9v.9h-.9zM487.2 75.3h.9v.9h-.9zM486.9 76.1h.9v.9h-.9zM486.9 78.9h.9v.9h-.9zM487.6 76.7h.9v.9h-.9zM486.2 82.1h.9v.9h-.9zM493.2 71.7h.9v.9h-.9zM484.3 75.4h.9v.9h-.9zM482.2 79.6h.9v.9h-.9zM486.7 77.2h.9v.9h-.9zM486.8 85.2h.9v.9h-.9zM483.1 81.7h.9v.9h-.9zM490.2 79.4h.9v.9h-.9zM493.4 63.0h.9v.9h-.9zM487.5 75.0h.9v.9h-.9zM488.4 74.9h.9v.9h-.9zM492.7 58.3h.9v.9h-.9zM486.7 73.4h.9v.9h-.9zM488.8 71.2h.9v.9h-.9zM487.6 69.1h.9v.9h-.9zM495.9 62.3h.9v.9h-.9zM486.9 85.1h.9v.9h-.9zM484.5 74.9h.9v.9h-.9zM489.0 70.7h.9v.9h-.9zM489.8 69.0h.9v.9h-.9zM492.4 69.1h.9v.9h-.9zM491.0 72.2h.9v.9h-.9zM487.3 75.5h.9v.9h-.9zM493.0 72.5h.9v.9h-.9zM495.6 79.8h.9v.9h-.9zM490.4 62.6h.9v.9h-.9zM492.2 67.7h.9v.9h-.9zM487.6 71.5h.9v.9h-.9zM491.4 63.3h.9v.9h-.9zM487.0 73.4h.9v.9h-.9zM498.8 64.9h.9v.9h-.9zM484.5 80.8h.9v.9h-.9zM489.1 71.3h.9v.9h-.9zM485.1 74.4h.9v.9h-.9zM486.7 70.9h.9v.9h-.9zM499.4 72.9h.9v.9h-.9zM493.9 78.4h.9v.9h-.9zM488.4 70.9h.9v.9h-.9zM485.5 74.5h.9v.9h-.9zM492.1 74.4h.9v.9h-.9zM491.1 68.3h.9v.9h-.9zM486.0 80.7h.9v.9h-.9zM494.9 64.9h.9v.9h-.9zM482.7 71.2h.9v.9h-.9zM490.1 77.3h.9v.9h-.9zM491.2 81.4h.9v.9h-.9zM485.2 75.9h.9v.9h-.9zM487.6 77.1h.9v.9h-.9zM490.4 67.5h.9v.9h-.9zM484.4 84.0h.9v.9h-.9zM495.8 73.4h.9v.9h-.9zM491.2 82.6h.9v.9h-.9zM492.8 70.9h.9v.9h-.9zM484.6 77.0h.9v.9h-.9zM489.9 80.8h.9v.9h-.9zM493.5 74.4h.9v.9h-.9zM494.5 63.7h.9v.9h-.9zM495.5 77.2h.9v.9h-.9zM484.6 80.7h.9v.9h-.9zM487.3 75.5h.9v.9h-.9zM487.2 71.9h.9v.9h-.9zM488.3 65.4h.9v.9h-.9zM481.9 76.0h.9v.9h-.9zM487.6 82.8h.9v.9h-.9zM490.6 70.1h.9v.9h-.9zM493.8 70.2h.9v.9h-.9zM487.8 77.2h.9v.9h-.9zM496.9 75.0h.9v.9h-.9zM489.5 77.1h.9v.9h-.9zM494.9 72.8h.9v.9h-.9zM494.1 73.2h.9v.9h-.9zM485.8 79.6h.9v.9h-.9zM484.1 84.9h.9v.9h-.9zM496.6 61.2h.9v.9h-.9zM490.6 73.9h.9v.9h-.9zM485.7 71.2h.9v.9h-.9zM487.1 77.7h.9v.9h-.9zM487.2 71.7h.9v.9h-.9zM486.9 73.5h.9v.9h-.9zM483.9 80.5h.9v.9h-.9zM490.0 79.8h.9v.9h-.9zM495.0 67.3h.9v.9h-.9zM487.2 74.4h.9v.9h-.9zM483.6 82.1h.9v.9h-.9zM497.4 66.9h.9v.9h-.9zM489.3 72.4h.9v.9h-.9zM490.9 74.6h.9v.9h-.9zM490.9 74.7h.9v.9h-.9zM487.6 78.4h.9v.9h-.9zM492.0 77.6h.9v.9h-.9zM490.3 83.0h.9v.9h-.9zM487.7 73.7h.9v.9h-.9zM490.0 74.1h.9v.9h-.9zM490.2 76.0h.9v.9h-.9zM482.6 74.7h.9v.9h-.9zM491.3 70.0h.9v.9h-.9zM495.3 65.2h.9v.9h-.9zM489.4 78.7h.9v.9h-.9zM499.0 63.1h.9v.9h-.9zM486.3 80.1h.9v.9h-.9zM487.3 84.1h.9v.9h-.9zM487.8 69.3h.9v.9h-.9zM493.7 72.9h.9v.9h-.9zM489.6 68.4h.9v.9h-.9zM484.1 76.2h.9v.9h-.9zM487.0 81.8h.9v.9h-.9zM493.8 75.8h.9v.9h-.9zM489.2 72.0h.9v.9h-.9zM490.6 84.4h.9v.9h-.9zM489.9 73.0h.9v.9h-.9zM483.5 78.1h.9v.9h-.9zM488.2 69.0h.9v.9h-.9zM493.1 71.7h.9v.9h-.9zM483.4 73.7h.9v.9h-.9zM495.1 73.8h.9v.9h-.9zM483.3 76.8h.9v.9h-.9zM492.9 68.1h.9v.9h-.9zM491.7 79.4h.9v.9h-.9zM490.2 76.3h.9v.9h-.9zM486.1 75.1h.9v.9h-.9zM487.4 71.5h.9v.9h-.9zM483.0 83.2h.9v.9h-.9zM496.3 68.7h.9v.9h-.9zM498.5 63.2h.9v.9h-.9zM494.7 65.3h.9v.9h-.9zM489.8 77.2h.9v.9h-.9zM489.3 80.5h.9v.9h-.9zM489.1 76.9h.9v.9h-.9zM486.8 78.6h.9v.9h-.9zM491.5 68.2h.9v.9h-.9zM488.6 78.2h.9v.9h-.9zM491.3 68.8h.9v.9h-.9zM481.5 78.3h.9v.9h-.9zM489.3 83.2h.9v.9h-.9zM490.8 75.2h.9v.9h-.9zM493.3 68.4h.9v.9h-.9zM489.2 70.5h.9v.9h-.9zM487.2 84.0h.9v.9h-.9zM491.1 75.4h.9v.9h-.9zM486.2 79.8h.9v.9h-.9zM492.3 61.4h.9v.9h-.9zM493.9 75.4h.9v.9h-.9zM489.3 75.5h.9v.9h-.9zM492.4 78.4h.9v.9h-.9zM488.1 74.0h.9v.9h-.9zM490.0 71.2h.9v.9h-.9zM493.0 79.2h.9v.9h-.9zM492.5 68.6h.9v.9h-.9zM494.3 70.7h.9v.9h-.9zM491.3 70.8h.9v.9h-.9zM491.0 74.2h.9v.9h-.9zM492.2 71.4h.9v.9h-.9zM487.8 77.0h.9v.9h-.9zM487.7 70.0h.9v.9h-.9zM491.9 75.2h.9v.9h-.9zM489.1 72.6h.9v.9h-.9zM488.0 73.4h.9v.9h-.9zM491.0 67.9h.9v.9h-.9zM481.3 81.6h.9v.9h-.9zM491.0 72.6h.9v.9h-.9zM484.2 74.7h.9v.9h-.9zM486.5 73.6h.9v.9h-.9zM487.8 77.7h.9v.9h-.9zM488.5 78.8h.9v.9h-.9zM486.1 77.5h.9v.9h-.9zM493.5 77.5h.9v.9h-.9zM496.7 66.6h.9v.9h-.9zM487.6 78.2h.9v.9h-.9zM494.5 70.1h.9v.9h-.9zM485.0 83.1h.9v.9h-.9zM489.9 79.3h.9v.9h-.9zM489.6 69.6h.9v.9h-.9zM494.5 61.6h.9v.9h-.9zM495.6 60.0h.9v.9h-.9zM495.2 77.3h.9v.9h-.9zM486.7 76.3h.9v.9h-.9zM493.4 65.7h.9v.9h-.9zM486.9 69.5h.9v.9h-.9zM497.4 65.4h.9v.9h-.9zM492.7 73.1h.9v.9h-.9zM486.7 76.1h.9v.9h-.9zM486.5 83.4h.9v.9h-.9zM495.5 68.3h.9v.9h-.9zM494.2 69.9h.9v.9h-.9zM483.0 77.3h.9v.9h-.9zM491.8 70.7h.9v.9h-.9zM491.4 68.1h.9v.9h-.9zM488.6 79.6h.9v.9h-.9zM483.0 74.7h.9v.9h-.9zM485.2 76.1h.9v.9h-.9zM484.8 79.5h.9v.9h-.9zM499.4 72.2h.9v.9h-.9zM492.9 63.7h.9v.9h-.9zM492.4 67.5h.9v.9h-.9zM488.5 70.8h.9v.9h-.9zM484.2 72.0h.9v.9h-.9zM492.0 62.8h.9v.9h-.9zM489.3 69.9h.9v.9h-.9zM486.6 70.8h.9v.9h-.9zM491.4 77.5h.9v.9h-.9zM485.1 67.8h.9v.9h-.9zM487.8 67.3h.9v.9h-.9zM491.9 73.2h.9v.9h-.9zM486.8 77.2h.9v.9h-.9zM490.1 76.0h.9v.9h-.9zM496.2 70.9h.9v.9h-.9zM496.6 75.1h.9v.9h-.9zM492.5 82.0h.9v.9h-.9zM491.2 76.6h.9v.9h-.9zM489.5 74.9h.9v.9h-.9zM488.3 79.8h.9v.9h-.9zM495.5 62.8h.9v.9h-.9zM489.5 74.2h.9v.9h-.9zM490.8 69.7h.9v.9h-.9zM490.2 74.4h.9v.9h-.9zM496.0 68.1h.9v.9h-.9zM484.8 79.0h.9v.9h-.9zM492.2 75.2h.9v.9h-.9zM491.5 68.3h.9v.9h-.9zM494.8 61.8h.9v.9h-.9zM497.7 68.2h.9v.9h-.9zM494.5 65.3h.9v.9h-.9zM486.4 68.5h.9v.9h-.9zM482.9 83.1h.9v.9h-.9zM494.8 71.5h.9v.9h-.9zM492.5 76.1h.9v.9h-.9zM495.8 73.0h.9v.9h-.9zM482.7 81.8h.9v.9h-.9zM483.8 77.9h.9v.9h-.9zM491.1 63.4h.9v.9h-.9zM486.1 78.1h.9v.9h-.9zM490.5 68.4h.9v.9h-.9zM493.2 70.7h.9v.9h-.9zM480.5 74.1h.9v.9h-.9zM483.2 77.4h.9v.9h-.9zM491.7 63.8h.9v.9h-.9zM487.8 80.6h.9v.9h-.9zM486.8 72.3h.9v.9h-.9zM495.3 69.2h.9v.9h-.9zM488.0 71.3h.9v.9h-.9zM480.9 75.9h.9v.9h-.9zM491.8 72.4h.9v.9h-.9zM487.2 79.2h.9v.9h-.9zM494.9 53.9h.9v.9h-.9zM486.8 84.5h.9v.9h-.9zM486.9 75.7h.9v.9h-.9zM490.8 70.3h.9v.9h-.9zM493.8 69.2h.9v.9h-.9zM493.0 67.7h.9v.9h-.9zM488.2 85.1h.9v.9h-.9zM485.9 70.6h.9v.9h-.9zM492.4 74.9h.9v.9h-.9zM486.9 79.8h.9v.9h-.9zM484.5 76.7h.9v.9h-.9zM491.8 79.4h.9v.9h-.9zM491.3 70.1h.9v.9h-.9zM489.7 74.7h.9v.9h-.9zM490.9 72.7h.9v.9h-.9zM487.7 85.1h.9v.9h-.9zM479.2 75.0h.9v.9h-.9zM487.7 68.3h.9v.9h-.9zM488.9 74.7h.9v.9h-.9zM489.6 78.1h.9v.9h-.9zM487.9 75.1h.9v.9h-.9zM486.1 79.0h.9v.9h-.9zM486.9 79.9h.9v.9h-.9zM496.2 68.0h.9v.9h-.9zM486.5 69.6h.9v.9h-.9zM495.2 69.6h.9v.9h-.9zM488.2 59.1h.9v.9h-.9zM488.6 73.4h.9v.9h-.9zM489.1 66.3h.9v.9h-.9zM495.7 79.6h.9v.9h-.9zM486.1 65.5h.9v.9h-.9zM493.8 75.9h.9v.9h-.9zM489.7 78.4h.9v.9h-.9zM485.3 71.3h.9v.9h-.9zM491.3 79.2h.9v.9h-.9zM490.9 66.4h.9v.9h-.9zM490.4 66.6h.9v.9h-.9zM490.1 72.6h.9v.9h-.9zM487.1 81.6h.9v.9h-.9zM480.0 72.2h.9v.9h-.9zM484.7 77.4h.9v.9h-.9zM484.2 77.3h.9v.9h-.9zM480.1 74.3h.9v.9h-.9zM492.2 69.1h.9v.9h-.9zM489.4 72.2h.9v.9h-.9zM488.9 73.3h.9v.9h-.9zM481.9 77.9h.9v.9h-.9zM492.9 75.1h.9v.9h-.9zM495.2 75.1h.9v.9h-.9zM485.0 81.3h.9v.9h-.9zM491.7 79.3h.9v.9h-.9zM492.5 63.7h.9v.9h-.9zM490.7 69.5h.9v.9h-.9zM486.5 79.5h.9v.9h-.9zM491.5 82.2h.9v.9h-.9zM494.8 72.4h.9v.9h-.9zM483.0 68.4h.9v.9h-.9zM492.0 69.6h.9v.9h-.9zM497.6 70.8h.9v.9h-.9zM489.2 81.0h.9v.9h-.9zM489.9 71.9h.9v.9h-.9zM490.4 76.4h.9v.9h-.9zM493.1 71.7h.9v.9h-.9zM484.3 74.4h.9v.9h-.9zM497.1 68.5h.9v.9h-.9zM487.9 77.2h.9v.9h-.9zM486.2 66.8h.9v.9h-.9zM498.4 74.8h.9v.9h-.9zM488.1 71.4h.9v.9h-.9zM495.1 62.5h.9v.9h-.9zM488.8 72.2h.9v.9h-.9zM484.4 70.3h.9v.9h-.9zM481.5 79.1h.9v.9h-.9zM491.7 68.8h.9v.9h-.9zM486.3 64.5h.9v.9h-.9zM492.4 79.6h.9v.9h-.9zM481.6 75.7h.9v.9h-.9zM486.4 77.7h.9v.9h-.9zM493.5 76.0h.9v.9h-.9zM497.9 68.8h.9v.9h-.9zM489.5 70.0h.9v.9h-.9zM483.6 74.6h.9v.9h-.9zM496.8 68.7h.9v.9h-.9zM487.0 72.2h.9v.9h-.9zM492.9 70.9h.9v.9h-.9zM486.3 71.4h.9v.9h-.9zM488.4 71.8h.9v.9h-.9zM493.4 70.7h.9v.9h-.9zM489.4 70.9h.9v.9h-.9zM496.0 66.5h.9v.9h-.9zM495.5 68.1h.9v.9h-.9zM492.5 70.8h.9v.9h-.9zM481.0 77.3h.9v.9h-.9zM488.9 80.2h.9v.9h-.9zM492.5 69.1h.9v.9h-.9zM495.5 76.2h.9v.9h-.9zM482.9 73.6h.9v.9h-.9zM484.3 82.3h.9v.9h-.9zM493.7 71.1h.9v.9h-.9zM491.5 76.5h.9v.9h-.9zM487.1 73.2h.9v.9h-.9zM490.8 77.3h.9v.9h-.9zM488.6 66.9h.9v.9h-.9zM487.2 79.8h.9v.9h-.9zM491.6 60.3h.9v.9h-.9zM487.4 81.7h.9v.9h-.9zM489.0 70.2h.9v.9h-.9zM490.9 74.9h.9v.9h-.9zM484.7 83.8h.9v.9h-.9zM494.0 72.0h.9v.9h-.9zM492.4 67.3h.9v.9h-.9zM489.8 84.1h.9v.9h-.9zM489.6 68.7h.9v.9h-.9zM495.5 69.7h.9v.9h-.9zM481.8 71.3h.9v.9h-.9zM485.9 75.5h.9v.9h-.9zM487.0 78.6h.9v.9h-.9zM487.8 80.7h.9v.9h-.9zM490.9 61.6h.9v.9h-.9zM490.7 67.3h.9v.9h-.9zM490.6 70.7h.9v.9h-.9zM490.7 65.7h.9v.9h-.9zM489.1 68.7h.9v.9h-.9zM490.1 72.7h.9v.9h-.9zM487.5 65.5h.9v.9h-.9zM490.2 83.7h.9v.9h-.9zM495.8 74.4h.9v.9h-.9zM487.4 80.1h.9v.9h-.9zM496.6 73.2h.9v.9h-.9zM488.0 73.6h.9v.9h-.9zM491.1 69.8h.9v.9h-.9zM489.9 79.3h.9v.9h-.9zM481.2 83.2h.9v.9h-.9zM491.6 65.6h.9v.9h-.9zM489.8 76.4h.9v.9h-.9zM494.2 68.5h.9v.9h-.9zM485.1 78.6h.9v.9h-.9zM492.0 67.9h.9v.9h-.9zM490.5 78.8h.9v.9h-.9zM499.3 70.8h.9v.9h-.9zM484.4 79.0h.9v.9h-.9zM488.7 78.4h.9v.9h-.9zM491.7 78.3h.9v.9h-.9zM486.9 77.2h.9v.9h-.9zM491.7 71.1h.9v.9h-.9zM491.5 81.9h.9v.9h-.9zM489.5 70.0h.9v.9h-.9zM486.6 71.2h.9v.9h-.9zM485.3 80.5h.9v.9h-.9zM490.8 72.1h.9v.9h-.9zM483.1 76.3h.9v.9h-.9zM490.0 85.8h.9v.9h-.9zM488.0 70.7h.9v.9h-.9zM494.4 68.1h.9v.9h-.9zM486.5 75.4h.9v.9h-.9zM493.6 68.1h.9v.9h-.9zM495.0 65.4h.9v.9h-.9zM486.1 76.4h.9v.9h-.9zM488.4 78.3h.9v.9h-.9zM492.1 73.5h.9v.9h-.9zM487.4 69.9h.9v.9h-.9zM486.0 73.7h.9v.9h-.9zM486.7 69.3h.9v.9h-.9zM485.3 76.0h.9v.9h-.9zM487.0 77.1h.9v.9h-.9zM492.8 65.1h.9v.9h-.9zM484.7 81.6h.9v.9h-.9zM493.2 70.6h.9v.9h-.9zM496.3 75.6h.9v.9h-.9zM492.8 67.9h.9v.9h-.9zM488.6 65.2h.9v.9h-.9zM486.3 73.7h.9v.9h-.9zM495.0 75.4h.9v.9h-.9zM493.1 79.1h.9v.9h-.9zM491.2 81.8h.9v.9h-.9zM482.3 82.2h.9v.9h-.9zM491.9 68.3h.9v.9h-.9zM489.8 73.2h.9v.9h-.9zM489.4 72.7h.9v.9h-.9zM486.0 79.0h.9v.9h-.9zM487.0 72.0h.9v.9h-.9zM496.2 74.0h.9v.9h-.9zM483.4 82.4h.9v.9h-.9zM488.8 75.6h.9v.9h-.9zM487.5 72.4h.9v.9h-.9zM489.4 74.2h.9v.9h-.9zM494.1 76.8h.9v.9h-.9zM485.2 71.1h.9v.9h-.9zM487.2 83.6h.9v.9h-.9zM486.7 75.0h.9v.9h-.9zM484.9 81.1h.9v.9h-.9zM487.1 73.5h.9v.9h-.9zM491.3 77.3h.9v.9h-.9zM493.3 70.4h.9v.9h-.9zM484.8 72.9h.9v.9h-.9zM496.2 71.9h.9v.9h-.9zM496.5 68.6h.9v.9h-.9zM491.4 73.0h.9v.9h-.9zM493.4 75.9h.9v.9h-.9zM495.5 78.7h.9v.9h-.9zM490.6 69.2h.9v.9h-.9zM484.5 71.6h.9v.9h-.9zM486.6 77.6h.9v.9h-.9zM493.5 59.1h.9v.9h-.9zM492.2 69.0h.9v.9h-.9zM490.7 76.6h.9v.9h-.9zM495.6 63.6h.9v.9h-.9zM489.8 74.6h.9v.9h-.9zM489.7 69.6h.9v.9h-.9zM491.4 74.1h.9v.9h-.9zM489.8 76.5h.9v.9h-.9zM492.6 73.2h.9v.9h-.9zM485.2 78.7h.9v.9h-.9zM492.1 78.2h.9v.9h-.9zM485.0 70.1h.9v.9h-.9zM492.1 84.0h.9v.9h-.9zM486.4 70.2h.9v.9h-.9zM487.5 79.3h.9v.9h-.9zM498.4 68.4h.9v.9h-.9zM487.6 75.6h.9v.9h-.9zM491.6 61.8h.9v.9h-.9zM494.7 65.8h.9v.9h-.9zM493.8 75.4h.9v.9h-.9zM488.2 70.1h.9v.9h-.9zM485.5 82.5h.9v.9h-.9zM495.1 73.2h.9v.9h-.9zM495.9 72.8h.9v.9h-.9zM492.3 69.9h.9v.9h-.9zM491.9 72.2h.9v.9h-.9zM487.5 77.3h.9v.9h-.9zM488.4 72.6h.9v.9h-.9zM481.1 80.0h.9v.9h-.9zM492.5 72.0h.9v.9h-.9zM486.1 71.7h.9v.9h-.9zM490.6 68.7h.9v.9h-.9zM492.5 85.7h.9v.9h-.9zM489.6 70.4h.9v.9h-.9zM481.0 86.1h.9v.9h-.9zM497.7 67.8h.9v.9h-.9zM484.9 70.0h.9v.9h-.9zM487.6 75.7h.9v.9h-.9zM491.3 73.6h.9v.9h-.9zM490.7 62.7h.9v.9h-.9zM485.8 84.9h.9v.9h-.9zM481.7 81.2h.9v.9h-.9zM500.7 79.2h.9v.9h-.9zM482.0 83.5h.9v.9h-.9zM479.6 76.9h.9v.9h-.9zM486.9 83.4h.9v.9h-.9zM495.0 75.9h.9v.9h-.9zM498.0 81.6h.9v.9h-.9zM486.6 67.4h.9v.9h-.9zM501.4 71.6h.9v.9h-.9zM491.1 73.7h.9v.9h-.9zM486.6 62.9h.9v.9h-.9zM488.3 73.7h.9v.9h-.9zM494.0 70.8h.9v.9h-.9zM481.1 66.8h.9v.9h-.9zM488.8 76.3h.9v.9h-.9zM492.7 71.7h.9v.9h-.9zM491.7 75.5h.9v.9h-.9zM497.5 74.1h.9v.9h-.9zM489.7 78.6h.9v.9h-.9zM495.2 67.9h.9v.9h-.9zM486.6 72.5h.9v.9h-.9zM478.2 83.9h.9v.9h-.9zM494.4 74.7h.9v.9h-.9zM506.0 83.7h.9v.9h-.9zM499.2 85.8h.9v.9h-.9zM493.6 64.3h.9v.9h-.9zM496.7 77.5h.9v.9h-.9zM483.0 74.9h.9v.9h-.9zM492.8 81.6h.9v.9h-.9zM489.9 70.7h.9v.9h-.9zM492.9 69.0h.9v.9h-.9zM488.6 80.0h.9v.9h-.9zM481.7 77.2h.9v.9h-.9zM479.1 67.8h.9v.9h-.9zM482.8 73.9h.9v.9h-.9zM492.6 74.1h.9v.9h-.9zM493.6 75.2h.9v.9h-.9zM488.0 78.1h.9v.9h-.9zM487.8 75.5h.9v.9h-.9zM494.3 70.4h.9v.9h-.9zM494.8 66.5h.9v.9h-.9zM487.9 62.0h.9v.9h-.9zM486.3 86.0h.9v.9h-.9zM490.8 83.7h.9v.9h-.9zM481.6 67.2h.9v.9h-.9zM491.4 80.5h.9v.9h-.9zM493.2 62.4h.9v.9h-.9zM491.6 74.0h.9v.9h-.9zM489.6 78.0h.9v.9h-.9zM487.6 62.3h.9v.9h-.9zM483.6 64.0h.9v.9h-.9zM482.3 73.5h.9v.9h-.9zM495.6 69.3h.9v.9h-.9zM485.1 66.2h.9v.9h-.9zM480.3 75.0h.9v.9h-.9zM486.5 72.8h.9v.9h-.9zM484.1 78.0h.9v.9h-.9zM482.9 78.5h.9v.9h-.9zM485.7 80.2h.9v.9h-.9zM484.5 77.7h.9v.9h-.9zM491.2 73.9h.9v.9h-.9zM497.3 75.8h.9v.9h-.9zM484.5 79.5h.9v.9h-.9zM484.8 70.6h.9v.9h-.9zM489.1 75.8h.9v.9h-.9zM497.6 61.9h.9v.9h-.9zM487.7 82.7h.9v.9h-.9zM488.2 76.8h.9v.9h-.9zM496.7 65.6h.9v.9h-.9zM489.2 80.2h.9v.9h-.9zM486.0 61.8h.9v.9h-.9zM483.9 75.9h.9v.9h-.9zM495.7 63.3h.9v.9h-.9zM494.3 81.1h.9v.9h-.9zM497.2 73.4h.9v.9h-.9zM486.2 75.6h.9v.9h-.9zM496.8 79.0h.9v.9h-.9zM497.6 80.2h.9v.9h-.9zM486.0 67.2h.9v.9h-.9zM498.4 63.5h.9v.9h-.9zM487.2 72.2h.9v.9h-.9zM484.4 70.4h.9v.9h-.9zM488.7 70.7h.9v.9h-.9zM489.6 81.3h.9v.9h-.9zM484.9 71.6h.9v.9h-.9zM480.1 79.6h.9v.9h-.9zM492.4 85.4h.9v.9h-.9zM493.4 72.5h.9v.9h-.9zM487.0 72.3h.9v.9h-.9zM482.9 80.1h.9v.9h-.9zM485.9 69.3h.9v.9h-.9zM491.6 75.3h.9v.9h-.9zM486.0 72.8h.9v.9h-.9zM486.5 84.3h.9v.9h-.9zM494.1 69.2h.9v.9h-.9zM488.8 84.5h.9v.9h-.9zM491.3 79.4h.9v.9h-.9zM478.5 80.7h.9v.9h-.9zM490.7 78.7h.9v.9h-.9zM491.4 78.3h.9v.9h-.9zM486.4 81.0h.9v.9h-.9zM489.3 66.9h.9v.9h-.9zM483.8 75.7h.9v.9h-.9zM490.7 58.5h.9v.9h-.9zM478.5 82.1h.9v.9h-.9zM481.2 72.7h.9v.9h-.9zM486.0 78.6h.9v.9h-.9zM483.9 83.5h.9v.9h-.9zM482.8 76.7h.9v.9h-.9zM489.9 79.0h.9v.9h-.9zM484.9 84.2h.9v.9h-.9zM488.7 74.4h.9v.9h-.9zM487.6 66.8h.9v.9h-.9zM492.7 76.9h.9v.9h-.9zM484.6 72.4h.9v.9h-.9zM489.0 80.7h.9v.9h-.9zM488.1 81.3h.9v.9h-.9zM491.3 61.7h.9v.9h-.9zM485.5 59.7h.9v.9h-.9zM487.6 71.5h.9v.9h-.9zM492.0 75.7h.9v.9h-.9zM488.7 83.7h.9v.9h-.9zM492.0 65.5h.9v.9h-.9zM485.5 76.9h.9v.9h-.9zM497.6 73.1h.9v.9h-.9zM488.1 76.4h.9v.9h-.9zM493.0 73.8h.9v.9h-.9zM490.5 71.4h.9v.9h-.9zM486.2 68.7h.9v.9h-.9zM492.3 70.5h.9v.9h-.9zM491.8 77.5h.9v.9h-.9zM493.9 55.0h.9v.9h-.9zM484.1 65.6h.9v.9h-.9zM488.2 80.4h.9v.9h-.9zM501.9 85.7h.9v.9h-.9zM495.9 77.3h.9v.9h-.9zM487.0 78.4h.9v.9h-.9zM477.9 81.3h.9v.9h-.9zM489.0 79.0h.9v.9h-.9zM483.8 66.5h.9v.9h-.9zM485.7 74.2h.9v.9h-.9zM490.8 71.9h.9v.9h-.9zM490.8 79.5h.9v.9h-.9zM483.1 73.8h.9v.9h-.9zM481.1 70.5h.9v.9h-.9zM493.6 69.3h.9v.9h-.9zM498.5 78.2h.9v.9h-.9zM493.5 75.3h.9v.9h-.9zM493.4 82.5h.9v.9h-.9zM489.5 70.6h.9v.9h-.9zM488.1 71.2h.9v.9h-.9zM485.4 62.2h.9v.9h-.9zM486.5 76.9h.9v.9h-.9zM486.5 69.0h.9v.9h-.9zM491.1 77.9h.9v.9h-.9zM486.8 76.7h.9v.9h-.9zM484.1 80.8h.9v.9h-.9zM484.0 72.0h.9v.9h-.9zM489.7 71.4h.9v.9h-.9zM496.7 61.8h.9v.9h-.9zM489.6 65.3h.9v.9h-.9zM490.6 65.0h.9v.9h-.9zM492.0 78.4h.9v.9h-.9zM497.7 83.3h.9v.9h-.9zM486.7 81.4h.9v.9h-.9zM486.7 73.7h.9v.9h-.9zM486.5 61.6h.9v.9h-.9zM492.1 59.7h.9v.9h-.9zM487.8 78.3h.9v.9h-.9zM489.6 63.0h.9v.9h-.9zM485.7 79.5h.9v.9h-.9zM494.6 86.1h.9v.9h-.9zM479.8 77.9h.9v.9h-.9zM486.6 80.1h.9v.9h-.9zM480.4 73.5h.9v.9h-.9zM492.6 69.8h.9v.9h-.9zM487.2 67.4h.9v.9h-.9zM494.7 64.8h.9v.9h-.9zM484.4 72.1h.9v.9h-.9zM490.4 68.4h.9v.9h-.9zM492.0 77.0h.9v.9h-.9zM490.4 74.0h.9v.9h-.9zM491.3 65.9h.9v.9h-.9zM482.9 71.4h.9v.9h-.9zM483.4 79.6h.9v.9h-.9zM498.9 83.5h.9v.9h-.9zM491.3 77.0h.9v.9h-.9zM485.5 65.0h.9v.9h-.9zM491.8 63.7h.9v.9h-.9zM490.5 73.5h.9v.9h-.9zM492.8 74.9h.9v.9h-.9zM489.5 70.3h.9v.9h-.9zM480.3 72.0h.9v.9h-.9zM492.5 82.1h.9v.9h-.9zM496.0 67.2h.9v.9h-.9zM484.2 79.6h.9v.9h-.9zM490.6 63.4h.9v.9h-.9zM486.2 86.0h.9v.9h-.9zM479.7 75.6h.9v.9h-.9zM482.0 86.2h.9v.9h-.9zM486.7 67.0h.9v.9h-.9zM480.3 69.3h.9v.9h-.9zM476.0 71.0h.9v.9h-.9zM500.1 75.2h.9v.9h-.9zM487.7 66.0h.9v.9h-.9zM490.7 71.1h.9v.9h-.9zM484.7 84.6h.9v.9h-.9zM491.2 68.0h.9v.9h-.9zM496.5 74.1h.9v.9h-.9zM491.6 75.6h.9v.9h-.9zM495.0 79.0h.9v.9h-.9zM487.2 79.7h.9v.9h-.9zM487.0 75.5h.9v.9h-.9zM497.3 66.7h.9v.9h-.9zM483.7 71.6h.9v.9h-.9zM486.5 84.0h.9v.9h-.9zM497.1 71.2h.9v.9h-.9zM489.9 71.9h.9v.9h-.9zM492.4 79.3h.9v.9h-.9zM492.8 80.1h.9v.9h-.9zM498.8 73.3h.9v.9h-.9zM492.6 73.1h.9v.9h-.9zM489.2 76.1h.9v.9h-.9zM488.7 77.0h.9v.9h-.9zM484.7 73.4h.9v.9h-.9zM485.9 66.0h.9v.9h-.9zM485.4 70.9h.9v.9h-.9zM488.2 63.1h.9v.9h-.9zM487.7 66.2h.9v.9h-.9zM484.8 75.9h.9v.9h-.9zM494.6 76.6h.9v.9h-.9zM486.5 71.3h.9v.9h-.9zM495.8 62.6h.9v.9h-.9zM494.8 63.5h.9v.9h-.9zM485.8 74.8h.9v.9h-.9zM491.5 74.1h.9v.9h-.9zM493.9 74.8h.9v.9h-.9zM484.9 82.7h.9v.9h-.9zM496.6 83.9h.9v.9h-.9zM486.9 80.1h.9v.9h-.9zM480.8 67.0h.9v.9h-.9zM495.0 78.1h.9v.9h-.9zM487.4 53.1h.9v.9h-.9zM491.2 73.1h.9v.9h-.9zM476.3 70.4h.9v.9h-.9zM489.0 76.2h.9v.9h-.9zM492.8 72.6h.9v.9h-.9zM484.4 71.9h.9v.9h-.9zM478.3 66.3h.9v.9h-.9zM499.1 69.5h.9v.9h-.9zM494.4 75.4h.9v.9h-.9zM492.7 72.5h.9v.9h-.9zM484.4 81.8h.9v.9h-.9zM487.7 71.8h.9v.9h-.9zM490.8 73.1h.9v.9h-.9zM487.4 67.9h.9v.9h-.9zM490.3 76.9h.9v.9h-.9zM498.3 74.3h.9v.9h-.9zM480.1 77.9h.9v.9h-.9zM500.7 71.3h.9v.9h-.9zM484.9 73.3h.9v.9h-.9zM474.4 72.0h.9v.9h-.9zM488.0 63.4h.9v.9h-.9zM491.9 68.1h.9v.9h-.9zM479.6 69.2h.9v.9h-.9zM495.4 75.9h.9v.9h-.9zM486.4 72.6h.9v.9h-.9zM493.9 70.7h.9v.9h-.9zM491.1 81.6h.9v.9h-.9zM484.4 70.2h.9v.9h-.9zM491.3 74.6h.9v.9h-.9zM488.4 70.6h.9v.9h-.9zM495.9 62.7h.9v.9h-.9zM489.2 75.2h.9v.9h-.9zM489.2 64.4h.9v.9h-.9zM488.3 75.6h.9v.9h-.9zM485.5 76.8h.9v.9h-.9zM476.6 63.4h.9v.9h-.9zM489.5 77.4h.9v.9h-.9zM488.2 71.1h.9v.9h-.9zM489.9 82.5h.9v.9h-.9zM493.6 73.9h.9v.9h-.9zM486.6 82.3h.9v.9h-.9zM491.8 81.0h.9v.9h-.9zM487.6 68.2h.9v.9h-.9zM490.0 69.9h.9v.9h-.9zM494.9 80.8h.9v.9h-.9zM477.9 79.4h.9v.9h-.9zM495.8 82.1h.9v.9h-.9zM486.6 68.2h.9v.9h-.9zM494.0 81.9h.9v.9h-.9zM489.3 66.0h.9v.9h-.9zM481.2 76.5h.9v.9h-.9zM484.8 69.5h.9v.9h-.9zM491.3 82.2h.9v.9h-.9zM478.5 69.6h.9v.9h-.9zM495.6 74.2h.9v.9h-.9zM452.1 74.9h.9v.9h-.9zM440.7 73.1h.9v.9h-.9zM457.5 75.9h.9v.9h-.9zM461.0 64.3h.9v.9h-.9zM459.8 62.9h.9v.9h-.9zM439.1 71.7h.9v.9h-.9zM457.6 72.1h.9v.9h-.9zM455.8 68.1h.9v.9h-.9zM452.9 76.8h.9v.9h-.9zM448.7 65.7h.9v.9h-.9zM462.0 59.8h.9v.9h-.9zM456.1 68.1h.9v.9h-.9zM462.0 65.0h.9v.9h-.9zM463.2 63.8h.9v.9h-.9zM448.0 71.5h.9v.9h-.9zM455.8 63.6h.9v.9h-.9zM459.6 64.0h.9v.9h-.9zM443.3 73.0h.9v.9h-.9zM456.7 77.7h.9v.9h-.9zM459.1 65.9h.9v.9h-.9zM451.1 82.8h.9v.9h-.9zM450.8 72.2h.9v.9h-.9zM453.4 77.8h.9v.9h-.9zM453.1 67.8h.9v.9h-.9zM451.7 65.8h.9v.9h-.9zM444.3 76.3h.9v.9h-.9zM465.6 54.4h.9v.9h-.9zM447.5 65.7h.9v.9h-.9zM454.9 70.2h.9v.9h-.9zM455.1 61.2h.9v.9h-.9zM446.5 71.9h.9v.9h-.9zM457.4 80.1h.9v.9h-.9zM451.3 71.6h.9v.9h-.9zM451.2 76.4h.9v.9h-.9zM476.4 59.0h.9v.9h-.9zM462.1 57.3h.9v.9h-.9zM461.4 64.2h.9v.9h-.9zM465.8 66.7h.9v.9h-.9zM453.5 60.5h.9v.9h-.9zM452.7 67.9h.9v.9h-.9zM456.6 67.9h.9v.9h-.9zM456.8 58.4h.9v.9h-.9zM447.0 74.7h.9v.9h-.9zM454.4 67.1h.9v.9h-.9zM452.9 70.9h.9v.9h-.9zM460.9 63.7h.9v.9h-.9zM449.9 62.5h.9v.9h-.9zM428.4 81.2h.9v.9h-.9zM449.4 60.1h.9v.9h-.9zM456.0 67.7h.9v.9h-.9zM451.0 67.9h.9v.9h-.9zM452.0 76.0h.9v.9h-.9zM455.7 68.2h.9v.9h-.9zM449.7 74.2h.9v.9h-.9zM462.3 63.2h.9v.9h-.9zM446.9 68.5h.9v.9h-.9zM451.2 66.6h.9v.9h-.9zM444.1 82.4h.9v.9h-.9zM442.5 67.0h.9v.9h-.9zM452.4 81.5h.9v.9h-.9zM448.5 66.4h.9v.9h-.9zM446.3 79.8h.9v.9h-.9zM456.8 68.8h.9v.9h-.9zM452.8 73.4h.9v.9h-.9zM466.5 62.9h.9v.9h-.9zM447.8 66.5h.9v.9h-.9zM460.8 73.4h.9v.9h-.9zM454.6 62.1h.9v.9h-.9zM458.1 74.0h.9v.9h-.9zM449.4 76.1h.9v.9h-.9zM467.1 69.0h.9v.9h-.9zM435.6 74.0h.9v.9h-.9zM457.9 70.7h.9v.9h-.9zM450.2 72.6h.9v.9h-.9zM453.1 77.3h.9v.9h-.9zM436.3 84.9h.9v.9h-.9zM441.0 75.9h.9v.9h-.9zM438.4 76.6h.9v.9h-.9zM452.9 70.7h.9v.9h-.9zM466.5 58.8h.9v.9h-.9zM456.7 69.7h.9v.9h-.9zM459.1 74.2h.9v.9h-.9zM454.5 70.2h.9v.9h-.9zM452.1 71.2h.9v.9h-.9zM455.3 74.4h.9v.9h-.9zM453.3 70.6h.9v.9h-.9zM454.7 73.5h.9v.9h-.9zM451.9 76.7h.9v.9h-.9zM450.4 76.5h.9v.9h-.9zM468.8 59.6h.9v.9h-.9zM449.0 66.8h.9v.9h-.9zM458.9 66.0h.9v.9h-.9zM458.4 62.6h.9v.9h-.9zM462.1 73.8h.9v.9h-.9zM455.3 66.9h.9v.9h-.9zM442.7 78.4h.9v.9h-.9zM459.9 68.6h.9v.9h-.9zM441.3 73.7h.9v.9h-.9zM442.5 72.8h.9v.9h-.9zM451.6 73.1h.9v.9h-.9zM468.7 59.4h.9v.9h-.9zM459.9 55.7h.9v.9h-.9zM467.4 63.9h.9v.9h-.9zM458.8 70.8h.9v.9h-.9zM463.2 73.6h.9v.9h-.9zM454.5 59.3h.9v.9h-.9zM456.0 75.8h.9v.9h-.9zM448.5 70.2h.9v.9h-.9zM451.2 73.7h.9v.9h-.9zM452.8 67.1h.9v.9h-.9zM459.0 69.4h.9v.9h-.9zM442.7 72.1h.9v.9h-.9zM436.7 81.4h.9v.9h-.9zM451.2 67.9h.9v.9h-.9zM447.9 73.7h.9v.9h-.9zM454.8 72.4h.9v.9h-.9zM460.8 67.0h.9v.9h-.9zM459.1 60.2h.9v.9h-.9zM458.8 68.1h.9v.9h-.9zM442.9 74.5h.9v.9h-.9zM456.7 68.1h.9v.9h-.9zM441.5 76.2h.9v.9h-.9zM467.4 64.2h.9v.9h-.9zM457.4 74.8h.9v.9h-.9zM445.4 75.4h.9v.9h-.9zM459.6 63.4h.9v.9h-.9zM445.8 79.4h.9v.9h-.9zM458.6 51.6h.9v.9h-.9zM450.7 65.1h.9v.9h-.9zM446.7 67.3h.9v.9h-.9zM471.7 52.1h.9v.9h-.9zM451.4 67.7h.9v.9h-.9zM443.9 74.9h.9v.9h-.9zM459.5 75.5h.9v.9h-.9zM459.6 74.4h.9v.9h-.9zM444.8 77.3h.9v.9h-.9zM445.2 67.6h.9v.9h-.9zM481.8 46.8h.9v.9h-.9zM452.8 66.3h.9v.9h-.9zM445.6 70.3h.9v.9h-.9zM460.0 62.8h.9v.9h-.9zM452.4 72.0h.9v.9h-.9zM444.0 78.8h.9v.9h-.9zM452.9 73.1h.9v.9h-.9zM450.1 73.0h.9v.9h-.9zM459.8 70.8h.9v.9h-.9zM450.3 78.2h.9v.9h-.9zM444.7 75.9h.9v.9h-.9zM454.4 70.2h.9v.9h-.9zM430.5 82.3h.9v.9h-.9zM454.1 74.9h.9v.9h-.9zM451.6 80.2h.9v.9h-.9zM439.0 81.8h.9v.9h-.9zM457.3 67.3h.9v.9h-.9zM457.7 72.2h.9v.9h-.9zM448.3 77.6h.9v.9h-.9zM460.8 63.1h.9v.9h-.9zM431.4 80.4h.9v.9h-.9zM443.3 71.9h.9v.9h-.9zM454.2 65.0h.9v.9h-.9zM474.2 57.4h.9v.9h-.9zM441.9 77.5h.9v.9h-.9zM467.0 63.6h.9v.9h-.9zM447.8 80.5h.9v.9h-.9zM455.4 81.4h.9v.9h-.9zM450.3 76.0h.9v.9h-.9zM456.2 65.4h.9v.9h-.9zM455.0 75.6h.9v.9h-.9zM456.8 67.2h.9v.9h-.9zM461.4 74.1h.9v.9h-.9zM461.7 66.5h.9v.9h-.9zM451.3 62.9h.9v.9h-.9zM452.7 67.9h.9v.9h-.9zM457.1 63.8h.9v.9h-.9zM453.6 64.0h.9v.9h-.9zM458.1 62.4h.9v.9h-.9zM454.4 72.7h.9v.9h-.9zM450.5 72.5h.9v.9h-.9zM466.3 70.4h.9v.9h-.9zM436.2 78.3h.9v.9h-.9zM461.0 69.7h.9v.9h-.9zM449.5 73.7h.9v.9h-.9zM457.8 79.9h.9v.9h-.9zM448.1 67.4h.9v.9h-.9zM437.2 75.4h.9v.9h-.9zM462.2 61.1h.9v.9h-.9zM470.2 60.8h.9v.9h-.9zM457.8 70.5h.9v.9h-.9zM461.8 69.0h.9v.9h-.9zM443.7 74.5h.9v.9h-.9zM449.0 74.2h.9v.9h-.9zM447.6 67.6h.9v.9h-.9zM452.5 81.2h.9v.9h-.9zM467.4 54.4h.9v.9h-.9zM455.9 68.0h.9v.9h-.9zM448.3 78.2h.9v.9h-.9zM457.1 76.9h.9v.9h-.9zM455.7 66.6h.9v.9h-.9zM457.7 62.7h.9v.9h-.9zM461.9 67.5h.9v.9h-.9zM438.5 80.6h.9v.9h-.9zM457.6 71.2h.9v.9h-.9zM454.2 69.5h.9v.9h-.9zM449.5 71.6h.9v.9h-.9zM450.1 66.7h.9v.9h-.9zM457.2 65.4h.9v.9h-.9zM455.7 65.5h.9v.9h-.9zM456.6 68.4h.9v.9h-.9zM461.3 66.7h.9v.9h-.9zM459.9 64.2h.9v.9h-.9zM451.8 69.9h.9v.9h-.9zM442.7 77.7h.9v.9h-.9zM463.7 66.6h.9v.9h-.9zM447.1 76.8h.9v.9h-.9zM455.2 61.0h.9v.9h-.9zM456.7 69.5h.9v.9h-.9zM459.6 66.8h.9v.9h-.9zM433.6 73.9h.9v.9h-.9zM467.6 56.9h.9v.9h-.9zM466.6 67.2h.9v.9h-.9zM450.5 65.9h.9v.9h-.9zM463.7 62.0h.9v.9h-.9zM458.4 69.0h.9v.9h-.9zM463.4 68.3h.9v.9h-.9zM437.9 74.2h.9v.9h-.9zM454.1 69.7h.9v.9h-.9zM458.8 65.3h.9v.9h-.9zM457.2 78.9h.9v.9h-.9zM467.1 66.2h.9v.9h-.9zM459.0 61.3h.9v.9h-.9zM452.1 70.8h.9v.9h-.9zM441.9 74.1h.9v.9h-.9zM450.9 65.2h.9v.9h-.9zM458.6 68.9h.9v.9h-.9zM450.2 70.7h.9v.9h-.9zM459.1 68.5h.9v.9h-.9zM452.5 63.9h.9v.9h-.9zM446.8 73.2h.9v.9h-.9zM436.4 78.8h.9v.9h-.9zM449.4 77.8h.9v.9h-.9zM428.2 81.7h.9v.9h-.9zM448.4 71.3h.9v.9h-.9zM445.6 73.7h.9v.9h-.9zM441.3 81.1h.9v.9h-.9zM462.9 63.7h.9v.9h-.9zM452.3 78.3h.9v.9h-.9zM454.0 63.8h.9v.9h-.9zM446.8 71.8h.9v.9h-.9zM456.0 75.1h.9v.9h-.9zM447.0 74.3h.9v.9h-.9zM450.6 65.6h.9v.9h-.9zM450.9 75.6h.9v.9h-.9zM456.8 56.9h.9v.9h-.9zM457.8 65.1h.9v.9h-.9zM464.9 64.8h.9v.9h-.9zM469.4 59.5h.9v.9h-.9zM447.6 69.9h.9v.9h-.9zM443.2 81.3h.9v.9h-.9zM459.3 70.3h.9v.9h-.9zM451.6 63.0h.9v.9h-.9zM449.1 72.1h.9v.9h-.9zM456.4 72.3h.9v.9h-.9zM465.0 62.8h.9v.9h-.9zM433.9 79.5h.9v.9h-.9zM434.0 80.8h.9v.9h-.9zM444.2 78.7h.9v.9h-.9zM454.3 75.8h.9v.9h-.9zM460.3 62.3h.9v.9h-.9zM460.5 64.8h.9v.9h-.9zM460.3 72.5h.9v.9h-.9zM443.7 77.3h.9v.9h-.9zM463.1 58.3h.9v.9h-.9zM455.1 69.7h.9v.9h-.9zM446.1 68.4h.9v.9h-.9zM444.9 71.2h.9v.9h-.9zM462.2 64.8h.9v.9h-.9zM455.3 62.0h.9v.9h-.9zM457.4 67.9h.9v.9h-.9zM459.3 61.5h.9v.9h-.9zM463.2 70.4h.9v.9h-.9zM464.7 56.1h.9v.9h-.9zM440.1 72.2h.9v.9h-.9zM462.3 66.7h.9v.9h-.9zM453.3 65.3h.9v.9h-.9zM467.4 68.5h.9v.9h-.9zM452.4 70.3h.9v.9h-.9zM463.8 65.0h.9v.9h-.9zM462.5 60.8h.9v.9h-.9zM454.8 67.2h.9v.9h-.9zM447.7 72.9h.9v.9h-.9zM452.2 74.0h.9v.9h-.9zM450.8 72.6h.9v.9h-.9zM443.2 71.1h.9v.9h-.9zM461.6 58.2h.9v.9h-.9zM469.9 62.7h.9v.9h-.9zM433.1 82.2h.9v.9h-.9zM449.8 73.1h.9v.9h-.9zM449.9 69.4h.9v.9h-.9zM462.6 62.4h.9v.9h-.9zM458.7 62.2h.9v.9h-.9zM451.2 79.5h.9v.9h-.9zM447.8 68.3h.9v.9h-.9zM454.6 75.3h.9v.9h-.9zM449.8 68.9h.9v.9h-.9zM460.7 70.1h.9v.9h-.9zM450.5 70.6h.9v.9h-.9zM457.6 82.3h.9v.9h-.9zM456.3 77.9h.9v.9h-.9zM453.0 72.8h.9v.9h-.9zM437.4 83.6h.9v.9h-.9zM452.6 69.0h.9v.9h-.9zM446.0 68.1h.9v.9h-.9zM441.7 80.2h.9v.9h-.9zM447.7 74.1h.9v.9h-.9zM450.2 69.8h.9v.9h-.9zM452.4 81.6h.9v.9h-.9zM442.9 75.4h.9v.9h-.9zM447.5 68.2h.9v.9h-.9zM447.8 79.4h.9v.9h-.9zM460.7 65.3h.9v.9h-.9zM480.9 53.6h.9v.9h-.9zM460.5 60.0h.9v.9h-.9zM466.2 69.8h.9v.9h-.9zM455.0 79.2h.9v.9h-.9zM443.5 71.4h.9v.9h-.9zM450.4 67.9h.9v.9h-.9zM455.0 62.7h.9v.9h-.9zM448.3 63.0h.9v.9h-.9zM455.7 74.4h.9v.9h-.9zM451.8 73.2h.9v.9h-.9zM458.6 59.9h.9v.9h-.9zM443.2 78.6h.9v.9h-.9zM454.5 67.8h.9v.9h-.9zM448.7 80.7h.9v.9h-.9zM443.1 76.7h.9v.9h-.9zM454.7 73.3h.9v.9h-.9zM447.2 70.3h.9v.9h-.9zM466.6 55.2h.9v.9h-.9zM458.9 65.1h.9v.9h-.9zM449.1 73.2h.9v.9h-.9zM451.9 73.2h.9v.9h-.9zM432.9 86.0h.9v.9h-.9zM450.9 66.6h.9v.9h-.9zM456.4 81.2h.9v.9h-.9zM469.4 61.5h.9v.9h-.9zM454.0 68.0h.9v.9h-.9zM462.8 60.4h.9v.9h-.9zM448.5 78.0h.9v.9h-.9zM443.2 73.6h.9v.9h-.9zM460.0 55.9h.9v.9h-.9zM452.8 71.3h.9v.9h-.9zM451.1 63.7h.9v.9h-.9zM450.3 70.7h.9v.9h-.9zM471.0 62.3h.9v.9h-.9zM449.5 78.2h.9v.9h-.9zM457.9 66.1h.9v.9h-.9zM450.4 71.0h.9v.9h-.9zM439.1 77.7h.9v.9h-.9zM464.4 69.9h.9v.9h-.9zM466.6 57.8h.9v.9h-.9zM451.3 58.2h.9v.9h-.9zM447.4 67.6h.9v.9h-.9zM455.0 59.6h.9v.9h-.9zM441.8 72.9h.9v.9h-.9zM458.5 71.0h.9v.9h-.9zM450.7 82.5h.9v.9h-.9zM452.0 66.5h.9v.9h-.9zM455.8 68.3h.9v.9h-.9zM460.5 66.6h.9v.9h-.9zM473.5 61.2h.9v.9h-.9zM450.2 77.2h.9v.9h-.9zM456.3 62.3h.9v.9h-.9zM444.9 72.2h.9v.9h-.9zM454.7 76.2h.9v.9h-.9zM448.8 74.2h.9v.9h-.9zM461.4 69.5h.9v.9h-.9zM452.7 64.8h.9v.9h-.9zM472.8 60.1h.9v.9h-.9zM468.2 67.9h.9v.9h-.9zM465.3 63.4h.9v.9h-.9zM458.5 69.8h.9v.9h-.9zM443.4 82.6h.9v.9h-.9zM446.5 77.9h.9v.9h-.9zM447.0 79.2h.9v.9h-.9zM456.0 82.3h.9v.9h-.9zM456.0 71.1h.9v.9h-.9zM445.1 75.0h.9v.9h-.9zM451.8 69.8h.9v.9h-.9zM447.2 70.0h.9v.9h-.9zM458.0 64.4h.9v.9h-.9zM447.6 76.7h.9v.9h-.9zM446.2 74.8h.9v.9h-.9zM446.5 70.3h.9v.9h-.9zM449.0 68.9h.9v.9h-.9zM444.1 79.4h.9v.9h-.9zM446.7 67.1h.9v.9h-.9zM450.5 73.5h.9v.9h-.9zM457.5 69.2h.9v.9h-.9zM456.7 71.0h.9v.9h-.9zM447.0 70.6h.9v.9h-.9zM448.7 72.3h.9v.9h-.9zM447.0 80.3h.9v.9h-.9zM455.8 79.3h.9v.9h-.9zM438.7 78.0h.9v.9h-.9zM445.4 67.3h.9v.9h-.9zM437.0 85.4h.9v.9h-.9zM437.7 74.8h.9v.9h-.9zM452.8 76.3h.9v.9h-.9zM451.3 71.4h.9v.9h-.9zM441.9 76.5h.9v.9h-.9zM441.7 65.3h.9v.9h-.9zM441.7 83.5h.9v.9h-.9zM438.8 80.0h.9v.9h-.9zM447.5 79.1h.9v.9h-.9zM438.2 73.2h.9v.9h-.9zM462.5 62.7h.9v.9h-.9zM453.4 60.7h.9v.9h-.9zM445.4 75.5h.9v.9h-.9zM465.5 79.4h.9v.9h-.9zM449.8 67.6h.9v.9h-.9zM436.7 76.5h.9v.9h-.9zM441.8 80.5h.9v.9h-.9zM438.3 79.0h.9v.9h-.9zM460.5 78.1h.9v.9h-.9zM427.9 80.0h.9v.9h-.9zM445.8 85.2h.9v.9h-.9zM451.9 82.8h.9v.9h-.9zM437.5 79.0h.9v.9h-.9zM454.6 75.6h.9v.9h-.9zM429.8 83.5h.9v.9h-.9zM448.2 79.4h.9v.9h-.9zM450.3 83.7h.9v.9h-.9zM448.4 75.7h.9v.9h-.9zM439.3 72.3h.9v.9h-.9zM453.9 77.2h.9v.9h-.9zM451.3 71.1h.9v.9h-.9zM436.2 79.3h.9v.9h-.9zM442.6 78.2h.9v.9h-.9zM450.2 68.1h.9v.9h-.9zM443.2 82.6h.9v.9h-.9zM458.3 84.4h.9v.9h-.9zM446.8 70.4h.9v.9h-.9zM434.8 77.3h.9v.9h-.9zM446.3 78.0h.9v.9h-.9zM442.9 74.1h.9v.9h-.9zM443.4 77.3h.9v.9h-.9zM449.9 74.9h.9v.9h-.9zM435.5 74.4h.9v.9h-.9zM456.3 70.2h.9v.9h-.9zM443.7 77.6h.9v.9h-.9zM453.0 70.6h.9v.9h-.9zM445.8 75.0h.9v.9h-.9zM446.8 69.4h.9v.9h-.9zM449.5 81.3h.9v.9h-.9zM456.0 75.1h.9v.9h-.9zM451.8 83.7h.9v.9h-.9zM454.5 81.1h.9v.9h-.9zM432.7 76.4h.9v.9h-.9zM450.6 72.2h.9v.9h-.9zM439.1 73.9h.9v.9h-.9z" fill="#111"/>
<path d="M499.6 33.7h.9v.9h-.9zM503.2 20.6h.9v.9h-.9zM491.5 47.2h.9v.9h-.9zM491.5 20.5h.9v.9h-.9zM493.7 26.3h.9v.9h-.9zM507.8 38.5h.9v.9h-.9zM493.0 45.0h.9v.9h-.9zM489.9 43.3h.9v.9h-.9zM498.0 32.6h.9v.9h-.9zM482.6 37.1h.9v.9h-.9zM475.4 37.6h.9v.9h-.9zM483.0 48.1h.9v.9h-.9zM480.9 21.7h.9v.9h-.9zM499.3 35.8h.9v.9h-.9zM495.3 50.3h.9v.9h-.9zM500.0 33.3h.9v.9h-.9zM482.1 17.3h.9v.9h-.9zM499.9 40.0h.9v.9h-.9zM486.2 27.3h.9v.9h-.9zM489.7 24.1h.9v.9h-.9zM495.9 40.0h.9v.9h-.9zM506.0 32.6h.9v.9h-.9zM497.3 39.4h.9v.9h-.9zM503.8 29.1h.9v.9h-.9zM482.9 33.2h.9v.9h-.9zM482.4 32.6h.9v.9h-.9zM493.9 37.6h.9v.9h-.9zM495.3 35.0h.9v.9h-.9zM492.3 38.8h.9v.9h-.9zM502.5 37.6h.9v.9h-.9zM504.6 29.0h.9v.9h-.9zM496.2 46.8h.9v.9h-.9zM496.5 37.2h.9v.9h-.9zM493.8 42.3h.9v.9h-.9zM488.6 29.5h.9v.9h-.9zM492.5 32.3h.9v.9h-.9zM499.4 30.2h.9v.9h-.9zM494.4 33.2h.9v.9h-.9zM495.0 29.9h.9v.9h-.9zM498.9 22.6h.9v.9h-.9zM489.4 31.4h.9v.9h-.9zM499.0 33.5h.9v.9h-.9zM496.9 31.5h.9v.9h-.9zM485.9 29.6h.9v.9h-.9zM490.2 32.4h.9v.9h-.9zM497.0 36.6h.9v.9h-.9zM501.1 31.6h.9v.9h-.9zM485.8 30.1h.9v.9h-.9zM495.3 37.2h.9v.9h-.9zM509.1 30.9h.9v.9h-.9zM511.7 42.5h.9v.9h-.9zM489.0 45.8h.9v.9h-.9zM505.8 40.7h.9v.9h-.9zM496.2 41.3h.9v.9h-.9zM490.2 35.9h.9v.9h-.9zM498.4 46.7h.9v.9h-.9zM494.7 41.9h.9v.9h-.9zM492.8 30.2h.9v.9h-.9zM497.4 38.7h.9v.9h-.9zM490.2 41.1h.9v.9h-.9zM486.5 31.2h.9v.9h-.9zM495.1 32.8h.9v.9h-.9zM482.7 27.0h.9v.9h-.9zM494.8 36.5h.9v.9h-.9zM491.0 37.5h.9v.9h-.9zM483.5 41.8h.9v.9h-.9zM497.8 35.7h.9v.9h-.9zM489.6 37.2h.9v.9h-.9zM497.5 41.7h.9v.9h-.9zM496.7 35.9h.9v.9h-.9zM490.6 42.7h.9v.9h-.9zM501.6 28.5h.9v.9h-.9zM499.5 35.3h.9v.9h-.9zM490.6 26.7h.9v.9h-.9zM502.7 17.9h.9v.9h-.9zM495.4 31.7h.9v.9h-.9zM501.6 29.1h.9v.9h-.9zM495.8 38.9h.9v.9h-.9zM496.2 30.3h.9v.9h-.9zM500.1 35.7h.9v.9h-.9zM500.2 28.9h.9v.9h-.9zM492.7 32.6h.9v.9h-.9zM488.3 39.0h.9v.9h-.9zM500.5 43.2h.9v.9h-.9zM492.5 38.4h.9v.9h-.9zM502.3 31.1h.9v.9h-.9zM494.8 35.7h.9v.9h-.9zM486.5 30.4h.9v.9h-.9zM502.8 33.1h.9v.9h-.9zM490.5 27.1h.9v.9h-.9zM497.7 42.4h.9v.9h-.9zM483.2 32.3h.9v.9h-.9zM505.7 41.3h.9v.9h-.9zM504.3 27.1h.9v.9h-.9zM496.7 28.4h.9v.9h-.9zM497.0 31.2h.9v.9h-.9zM498.7 43.2h.9v.9h-.9zM496.0 32.5h.9v.9h-.9zM495.1 36.6h.9v.9h-.9zM490.7 37.8h.9v.9h-.9zM502.2 43.6h.9v.9h-.9zM475.7 32.8h.9v.9h-.9zM486.8 44.1h.9v.9h-.9zM512.7 29.6h.9v.9h-.9zM497.6 42.1h.9v.9h-.9zM475.3 40.5h.9v.9h-.9zM471.1 44.5h.9v.9h-.9zM489.0 33.2h.9v.9h-.9zM495.1 30.3h.9v.9h-.9zM502.3 32.0h.9v.9h-.9zM502.9 50.5h.9v.9h-.9zM492.9 42.3h.9v.9h-.9zM490.8 45.4h.9v.9h-.9zM501.5 33.3h.9v.9h-.9zM505.2 42.8h.9v.9h-.9zM504.3 31.3h.9v.9h-.9zM496.2 42.4h.9v.9h-.9zM481.6 35.1h.9v.9h-.9zM499.0 37.4h.9v.9h-.9zM512.1 41.4h.9v.9h-.9zM497.5 37.0h.9v.9h-.9zM483.7 37.4h.9v.9h-.9zM495.4 32.8h.9v.9h-.9zM495.9 38.8h.9v.9h-.9zM485.6 33.9h.9v.9h-.9zM483.5 47.3h.9v.9h-.9zM482.1 26.8h.9v.9h-.9zM499.2 31.5h.9v.9h-.9zM500.3 30.0h.9v.9h-.9zM511.5 33.9h.9v.9h-.9zM495.4 35.3h.9v.9h-.9zM494.4 40.8h.9v.9h-.9zM507.9 26.8h.9v.9h-.9zM487.3 41.8h.9v.9h-.9zM498.4 22.4h.9v.9h-.9zM486.5 30.4h.9v.9h-.9zM499.4 36.8h.9v.9h-.9zM485.9 29.7h.9v.9h-.9zM494.2 19.8h.9v.9h-.9zM498.4 32.2h.9v.9h-.9zM510.6 36.3h.9v.9h-.9zM489.1 34.8h.9v.9h-.9zM490.2 31.0h.9v.9h-.9zM496.9 41.0h.9v.9h-.9zM482.3 37.6h.9v.9h-.9zM506.8 35.8h.9v.9h-.9zM486.1 32.0h.9v.9h-.9zM483.9 26.9h.9v.9h-.9zM502.7 32.3h.9v.9h-.9zM485.4 27.6h.9v.9h-.9zM489.9 32.7h.9v.9h-.9zM505.7 27.4h.9v.9h-.9zM497.4 41.6h.9v.9h-.9zM498.5 32.0h.9v.9h-.9zM481.2 50.0h.9v.9h-.9zM497.4 30.6h.9v.9h-.9zM491.1 29.1h.9v.9h-.9zM483.9 27.8h.9v.9h-.9zM498.9 37.0h.9v.9h-.9zM497.1 39.6h.9v.9h-.9zM498.3 34.3h.9v.9h-.9zM488.9 41.2h.9v.9h-.9zM504.3 35.9h.9v.9h-.9zM502.1 28.6h.9v.9h-.9zM489.7 45.7h.9v.9h-.9zM490.3 38.1h.9v.9h-.9zM492.6 35.7h.9v.9h-.9zM490.7 32.2h.9v.9h-.9zM485.3 52.1h.9v.9h-.9zM491.0 22.0h.9v.9h-.9zM484.7 30.2h.9v.9h-.9zM482.5 20.6h.9v.9h-.9zM502.1 44.0h.9v.9h-.9zM493.9 40.5h.9v.9h-.9zM495.5 25.4h.9v.9h-.9zM499.0 20.9h.9v.9h-.9zM488.9 34.2h.9v.9h-.9zM503.5 32.4h.9v.9h-.9zM491.2 30.2h.9v.9h-.9zM494.8 35.0h.9v.9h-.9zM502.7 42.0h.9v.9h-.9zM499.5 33.1h.9v.9h-.9zM496.6 45.7h.9v.9h-.9zM495.4 34.4h.9v.9h-.9zM510.9 40.3h.9v.9h-.9zM497.9 32.8h.9v.9h-.9zM491.8 43.6h.9v.9h-.9zM492.9 42.4h.9v.9h-.9zM488.5 37.8h.9v.9h-.9zM497.3 34.9h.9v.9h-.9zM496.6 36.8h.9v.9h-.9zM483.1 30.9h.9v.9h-.9zM497.2 47.0h.9v.9h-.9zM490.9 29.4h.9v.9h-.9zM489.2 37.0h.9v.9h-.9zM501.4 28.2h.9v.9h-.9zM498.6 34.7h.9v.9h-.9zM489.2 29.9h.9v.9h-.9zM491.2 30.8h.9v.9h-.9zM493.8 22.2h.9v.9h-.9zM504.1 36.8h.9v.9h-.9zM501.8 43.1h.9v.9h-.9zM494.4 22.4h.9v.9h-.9zM495.4 37.7h.9v.9h-.9zM486.3 29.6h.9v.9h-.9zM498.4 37.1h.9v.9h-.9zM490.3 34.6h.9v.9h-.9zM489.0 32.7h.9v.9h-.9zM496.1 42.0h.9v.9h-.9zM481.4 37.1h.9v.9h-.9zM506.6 32.7h.9v.9h-.9zM497.1 39.9h.9v.9h-.9zM483.8 29.9h.9v.9h-.9zM478.4 30.1h.9v.9h-.9zM497.8 39.8h.9v.9h-.9zM489.4 31.8h.9v.9h-.9zM498.4 37.9h.9v.9h-.9zM491.4 22.1h.9v.9h-.9zM484.1 20.2h.9v.9h-.9zM493.8 28.9h.9v.9h-.9zM492.7 46.4h.9v.9h-.9zM504.8 34.6h.9v.9h-.9zM496.4 35.4h.9v.9h-.9zM489.6 36.2h.9v.9h-.9zM505.9 24.3h.9v.9h-.9zM489.5 37.8h.9v.9h-.9zM502.5 38.0h.9v.9h-.9zM486.6 36.7h.9v.9h-.9zM489.2 27.8h.9v.9h-.9zM493.4 31.7h.9v.9h-.9zM501.7 35.3h.9v.9h-.9zM488.5 37.6h.9v.9h-.9zM489.9 31.9h.9v.9h-.9zM492.9 43.1h.9v.9h-.9zM487.0 25.1h.9v.9h-.9zM490.2 42.2h.9v.9h-.9zM507.3 22.5h.9v.9h-.9zM490.6 33.8h.9v.9h-.9zM484.7 41.3h.9v.9h-.9zM494.3 36.9h.9v.9h-.9zM509.7 27.3h.9v.9h-.9zM501.7 38.2h.9v.9h-.9zM488.0 32.9h.9v.9h-.9zM507.1 35.4h.9v.9h-.9zM492.5 27.6h.9v.9h-.9zM501.7 36.0h.9v.9h-.9zM513.5 38.6h.9v.9h-.9zM500.5 34.6h.9v.9h-.9zM493.2 31.3h.9v.9h-.9zM496.8 35.7h.9v.9h-.9zM501.3 40.2h.9v.9h-.9zM495.0 30.7h.9v.9h-.9zM503.5 42.8h.9v.9h-.9zM488.9 39.9h.9v.9h-.9zM499.3 37.0h.9v.9h-.9zM497.5 33.1h.9v.9h-.9zM497.2 46.1h.9v.9h-.9zM503.4 21.4h.9v.9h-.9zM476.5 44.6h.9v.9h-.9zM487.9 33.5h.9v.9h-.9zM483.2 41.5h.9v.9h-.9zM492.3 31.7h.9v.9h-.9zM506.2 48.1h.9v.9h-.9zM507.5 38.6h.9v.9h-.9zM492.5 40.3h.9v.9h-.9zM496.4 42.5h.9v.9h-.9zM498.2 33.2h.9v.9h-.9zM496.4 28.9h.9v.9h-.9zM503.3 42.5h.9v.9h-.9zM492.7 39.5h.9v.9h-.9zM484.0 45.4h.9v.9h-.9zM498.0 26.1h.9v.9h-.9zM507.0 31.1h.9v.9h-.9zM478.2 30.9h.9v.9h-.9zM499.8 30.9h.9v.9h-.9zM498.4 22.2h.9v.9h-.9zM495.6 41.5h.9v.9h-.9zM490.6 41.2h.9v.9h-.9zM492.2 38.2h.9v.9h-.9zM501.6 48.4h.9v.9h-.9zM486.8 43.3h.9v.9h-.9zM501.0 24.3h.9v.9h-.9zM500.0 49.5h.9v.9h-.9zM488.3 24.7h.9v.9h-.9zM494.5 29.6h.9v.9h-.9zM487.9 31.2h.9v.9h-.9zM495.1 31.2h.9v.9h-.9zM486.9 36.0h.9v.9h-.9zM495.0 28.5h.9v.9h-.9zM498.2 21.4h.9v.9h-.9zM496.1 31.4h.9v.9h-.9zM504.0 26.7h.9v.9h-.9zM486.0 28.2h.9v.9h-.9zM509.9 33.7h.9v.9h-.9zM485.3 35.7h.9v.9h-.9zM490.6 47.3h.9v.9h-.9zM492.3 20.9h.9v.9h-.9zM497.7 40.3h.9v.9h-.9zM495.1 38.0h.9v.9h-.9zM493.7 36.6h.9v.9h-.9zM493.9 29.9h.9v.9h-.9zM496.9 35.1h.9v.9h-.9zM492.1 30.7h.9v.9h-.9zM487.2 39.3h.9v.9h-.9zM494.4 17.4h.9v.9h-.9zM493.3 45.1h.9v.9h-.9zM499.0 28.0h.9v.9h-.9zM501.6 25.1h.9v.9h-.9zM492.8 49.5h.9v.9h-.9zM490.3 34.8h.9v.9h-.9zM479.6 32.9h.9v.9h-.9zM485.1 37.3h.9v.9h-.9zM483.1 46.7h.9v.9h-.9zM490.0 32.1h.9v.9h-.9zM491.1 41.4h.9v.9h-.9zM504.3 28.3h.9v.9h-.9zM509.5 41.0h.9v.9h-.9zM504.5 33.3h.9v.9h-.9zM484.7 43.3h.9v.9h-.9zM491.5 37.3h.9v.9h-.9zM498.0 41.2h.9v.9h-.9zM489.4 26.3h.9v.9h-.9zM510.5 28.6h.9v.9h-.9zM470.6 33.3h.9v.9h-.9zM509.3 48.7h.9v.9h-.9zM485.3 41.1h.9v.9h-.9zM490.8 23.2h.9v.9h-.9zM487.8 41.3h.9v.9h-.9zM502.1 29.4h.9v.9h-.9zM494.1 39.6h.9v.9h-.9zM492.4 40.2h.9v.9h-.9zM487.5 28.1h.9v.9h-.9zM495.3 42.1h.9v.9h-.9zM496.5 49.0h.9v.9h-.9zM479.3 20.3h.9v.9h-.9zM474.1 56.1h.9v.9h-.9zM482.3 42.2h.9v.9h-.9zM490.9 44.8h.9v.9h-.9zM489.4 34.2h.9v.9h-.9zM493.3 43.2h.9v.9h-.9zM481.8 49.5h.9v.9h-.9zM501.9 42.6h.9v.9h-.9zM490.0 37.1h.9v.9h-.9zM475.4 44.2h.9v.9h-.9zM481.7 35.0h.9v.9h-.9zM500.5 31.6h.9v.9h-.9zM486.0 45.9h.9v.9h-.9zM508.6 33.5h.9v.9h-.9zM501.5 33.8h.9v.9h-.9zM494.7 42.9h.9v.9h-.9zM480.2 47.2h.9v.9h-.9zM508.1 39.4h.9v.9h-.9zM493.6 29.6h.9v.9h-.9zM508.0 39.5h.9v.9h-.9zM478.9 45.1h.9v.9h-.9zM477.1 33.5h.9v.9h-.9zM470.8 50.0h.9v.9h-.9zM512.0 33.9h.9v.9h-.9zM484.8 34.4h.9v.9h-.9zM485.6 43.4h.9v.9h-.9zM504.9 30.9h.9v.9h-.9zM495.2 24.6h.9v.9h-.9zM505.5 38.3h.9v.9h-.9zM484.3 51.2h.9v.9h-.9zM490.0 50.0h.9v.9h-.9zM501.2 52.3h.9v.9h-.9zM483.4 39.5h.9v.9h-.9zM494.5 37.4h.9v.9h-.9zM505.5 33.3h.9v.9h-.9zM500.5 49.9h.9v.9h-.9zM472.4 31.2h.9v.9h-.9zM482.4 34.6h.9v.9h-.9zM494.7 37.6h.9v.9h-.9zM491.7 35.3h.9v.9h-.9zM490.2 42.9h.9v.9h-.9zM498.1 32.7h.9v.9h-.9zM489.9 32.9h.9v.9h-.9zM489.3 27.5h.9v.9h-.9zM500.1 44.4h.9v.9h-.9zM489.8 33.5h.9v.9h-.9zM486.7 33.7h.9v.9h-.9zM476.3 52.1h.9v.9h-.9zM479.9 43.6h.9v.9h-.9zM496.8 26.4h.9v.9h-.9zM472.8 43.3h.9v.9h-.9zM472.1 50.4h.9v.9h-.9zM486.3 39.7h.9v.9h-.9zM491.0 34.5h.9v.9h-.9zM489.7 36.6h.9v.9h-.9zM502.8 38.3h.9v.9h-.9zM490.7 34.8h.9v.9h-.9zM485.0 33.1h.9v.9h-.9zM491.1 53.7h.9v.9h-.9zM501.6 40.9h.9v.9h-.9zM506.9 47.1h.9v.9h-.9zM493.0 37.7h.9v.9h-.9zM480.6 41.0h.9v.9h-.9zM488.0 26.3h.9v.9h-.9zM478.8 54.5h.9v.9h-.9zM493.0 43.0h.9v.9h-.9zM492.9 35.3h.9v.9h-.9zM495.4 47.7h.9v.9h-.9zM488.1 43.1h.9v.9h-.9zM500.7 35.1h.9v.9h-.9zM492.6 33.1h.9v.9h-.9zM496.7 36.0h.9v.9h-.9zM501.9 32.9h.9v.9h-.9zM507.0 36.5h.9v.9h-.9zM483.0 31.8h.9v.9h-.9zM497.3 32.2h.9v.9h-.9zM508.1 49.3h.9v.9h-.9zM495.9 27.6h.9v.9h-.9zM490.8 33.2h.9v.9h-.9zM473.8 42.4h.9v.9h-.9zM511.9 34.7h.9v.9h-.9zM498.7 49.3h.9v.9h-.9zM481.9 36.3h.9v.9h-.9zM493.5 42.8h.9v.9h-.9zM480.1 40.7h.9v.9h-.9zM490.0 46.6h.9v.9h-.9zM475.8 34.5h.9v.9h-.9zM486.2 36.5h.9v.9h-.9zM497.9 34.0h.9v.9h-.9zM517.0 33.3h.9v.9h-.9zM499.0 47.2h.9v.9h-.9zM500.2 37.4h.9v.9h-.9zM483.1 37.0h.9v.9h-.9zM497.3 40.0h.9v.9h-.9zM496.5 43.6h.9v.9h-.9zM482.6 31.5h.9v.9h-.9zM504.7 35.1h.9v.9h-.9zM475.9 53.9h.9v.9h-.9zM483.1 31.5h.9v.9h-.9zM500.2 29.9h.9v.9h-.9zM482.7 47.4h.9v.9h-.9zM483.2 59.1h.9v.9h-.9zM491.9 60.5h.9v.9h-.9zM492.2 39.4h.9v.9h-.9zM484.9 37.2h.9v.9h-.9zM486.2 38.8h.9v.9h-.9zM498.3 28.8h.9v.9h-.9zM482.3 22.3h.9v.9h-.9zM505.3 38.4h.9v.9h-.9zM490.9 38.5h.9v.9h-.9zM500.5 41.6h.9v.9h-.9zM499.1 37.7h.9v.9h-.9zM489.8 38.6h.9v.9h-.9zM473.3 47.7h.9v.9h-.9zM476.0 31.0h.9v.9h-.9zM497.4 39.4h.9v.9h-.9zM498.7 52.6h.9v.9h-.9zM508.7 50.1h.9v.9h-.9zM488.9 55.4h.9v.9h-.9zM482.6 38.3h.9v.9h-.9zM500.5 37.3h.9v.9h-.9zM489.8 36.2h.9v.9h-.9zM504.0 19.3h.9v.9h-.9zM503.1 47.5h.9v.9h-.9zM490.3 43.5h.9v.9h-.9zM481.8 47.9h.9v.9h-.9z" fill="#222" fill-opacity="0.75"/>
<path d="M341.3 66.9h.9v.9h-.9zM347.5 54.8h.9v.9h-.9zM332.0 77.9h.9v.9h-.9zM335.9 68.2h.9v.9h-.9zM318.1 56.2h.9v.9h-.9zM324.5 78.8h.9v.9h-.9zM344.6 58.8h.9v.9h-.9zM347.4 53.0h.9v.9h-.9zM336.0 81.0h.9v.9h-.9zM327.1 80.3h.9v.9h-.9zM338.0 53.5h.9v.9h-.9zM326.7 65.5h.9v.9h-.9zM323.7 74.3h.9v.9h-.9zM321.3 75.6h.9v.9h-.9zM325.4 54.1h.9v.9h-.9zM334.6 54.9h.9v.9h-.9zM334.3 75.6h.9v.9h-.9zM335.8 65.8h.9v.9h-.9zM316.2 67.4h.9v.9h-.9zM318.4 71.4h.9v.9h-.9zM319.6 69.3h.9v.9h-.9zM327.4 63.2h.9v.9h-.9zM338.2 56.9h.9v.9h-.9zM320.9 80.2h.9v.9h-.9zM326.6 77.3h.9v.9h-.9zM345.6 66.4h.9v.9h-.9zM320.2 54.8h.9v.9h-.9zM345.8 55.5h.9v.9h-.9zM332.4 68.1h.9v.9h-.9zM319.1 66.0h.9v.9h-.9zM320.7 68.1h.9v.9h-.9zM332.7 63.0h.9v.9h-.9zM321.9 64.1h.9v.9h-.9zM322.1 55.8h.9v.9h-.9zM323.4 78.1h.9v.9h-.9zM332.6 78.7h.9v.9h-.9zM315.5 80.3h.9v.9h-.9zM332.1 75.7h.9v.9h-.9zM335.0 72.7h.9v.9h-.9zM323.0 74.5h.9v.9h-.9zM352.7 39.2h.9v.9h-.9zM351.3 40.7h.9v.9h-.9zM356.7 39.5h.9v.9h-.9zM360.8 37.0h.9v.9h-.9zM506.0 76.2h.9v.9h-.9zM494.9 63.6h.9v.9h-.9zM452.2 80.8h.9v.9h-.9zM512.3 83.2h.9v.9h-.9zM458.7 76.0h.9v.9h-.9zM487.7 77.0h.9v.9h-.9zM498.2 55.5h.9v.9h-.9zM463.6 74.6h.9v.9h-.9zM485.6 60.2h.9v.9h-.9zM504.3 31.8h.9v.9h-.9zM431.1 56.0h.9v.9h-.9zM438.3 77.2h.9v.9h-.9z" fill="#777"/>
<path d="M338.5 86.5L338.6 80.5L340 75.5L342.8 71L346.5 68L351.5 66L357.5 65.2L362.5 65.3L365 67.2L365.2 73L363.8 79.5L362 86.5Z" fill="#050505"/>
<path d="M313.5 86.5V81C316 79.5 319 80 322 82.5L324 86.5Z" fill="#111"/>
<path d="M486.3 34.5C486.3 30.5 489.5 27.5 494 26.6C498 25.9 502.5 26.8 503.6 30C504.5 33.5 502 38.5 498.5 41C494.5 42.8 488.5 41.8 486.8 38.5Z" fill="#050505" filter="url(#bl)"/>
<text x="66.3" y="130.9" font-size="11.5" font-weight="bold">B</text>
<rect x="125.60000000000001" y="141.2" width="8.299999999999999" height="6.699999999999999" fill="#fff" stroke="#000" stroke-width="1.4"/>
<rect x="125.8" y="152.1" width="8.299999999999999" height="7.0" fill="url(#hatchL)" stroke="#000" stroke-width="1.4"/>
<rect x="242.7" y="141.5" width="8.299999999999999" height="6.6" fill="#000" stroke="#000" stroke-width="1.4"/>
<rect x="242.7" y="152.0" width="8.299999999999999" height="6.5" fill="url(#check)" stroke="#000" stroke-width="1.4"/>
<rect x="354.7" y="141.5" width="8.299999999999999" height="6.6" fill="url(#gray)" stroke="#000" stroke-width="1.4"/>
<text font-size="9.0" fill="#1a1a1a" x="139" y="147.9">donor 7 (DRB1*04,07)</text>
<text font-size="9.0" fill="#1a1a1a" x="139" y="158.5">donor 4 (DRB1*04,11)</text>
<text font-size="9.0" fill="#1a1a1a" x="256" y="147.9">donor 9 (DRB1*04,08)</text>
<text font-size="9.0" fill="#1a1a1a" x="256" y="158.5">donor 1 (DRB1*03,11)</text>
<text font-size="9.0" fill="#1a1a1a" x="368.3" y="147.9">donor 2 (DRB1*13)</text>
<path d="M107.9 158.2V270.3M107.1 270.3H465M104.4 270.30H108M104.4 242.41H108M104.4 214.52H108M104.4 186.63H108M104.4 158.74H108M133.75 270.3V273.4M184.17 270.3V273.4M234.59 270.3V273.4M285.01 270.3V273.4M335.43 270.3V273.4M385.85 270.3V273.4M436.27 270.3V273.4" stroke="#000" stroke-width="1.5" fill="none"/>
<text font-size="8.3" x="104" y="273.20" text-anchor="end" fill="#1a1a1a">0</text>
<text font-size="8.3" x="104" y="245.31" text-anchor="end" fill="#1a1a1a">1,000</text>
<text font-size="8.3" x="104" y="217.42" text-anchor="end" fill="#1a1a1a">2,000</text>
<text font-size="8.3" x="104" y="189.53" text-anchor="end" fill="#1a1a1a">3,000</text>
<text font-size="8.3" x="104" y="161.64" text-anchor="end" fill="#1a1a1a">4,000</text>
<text font-size="8.2" fill="#1a1a1a" transform="translate(75.6 206.2) rotate(-90)" text-anchor="middle">IFN-&#947; (pg/mL)</text>
<path d="M166.57 214.32V194.63M164.47 194.63H168.67" stroke="#000" stroke-width="1.2"/>
<rect x="163.42" y="214.92" width="6.30" height="55.38" fill="#fff" stroke="#000" stroke-width="1.2"/>
<path d="M175.37 209.03V195.14M173.27 195.14H177.47" stroke="#000" stroke-width="1.2"/>
<rect x="172.22" y="209.63" width="6.30" height="60.67" fill="url(#hatch)" stroke="#000" stroke-width="1.2"/>
<path d="M184.17 181.14V172.24M182.07 172.24H186.27" stroke="#000" stroke-width="1.2"/>
<rect x="181.02" y="181.74" width="6.30" height="88.56" fill="#000" stroke="#000" stroke-width="1.2"/>
<path d="M192.97 239.12V235.72M190.87 235.72H195.07" stroke="#000" stroke-width="1.2"/>
<rect x="189.82" y="239.72" width="6.30" height="30.58" fill="url(#check)" stroke="#000" stroke-width="1.2"/>
<path d="M243.39 213.79V211.90M241.29 211.90H245.49" stroke="#000" stroke-width="1.2"/>
<rect x="240.24" y="214.39" width="6.30" height="55.91" fill="url(#check)" stroke="#000" stroke-width="1.2"/>
<path d="M252.19 256.72V253.51M250.09 253.51H254.29" stroke="#000" stroke-width="1.2"/>
<rect x="249.04" y="257.32" width="6.30" height="12.98" fill="url(#gray)" stroke="#000" stroke-width="1.2"/>
<path d="M293.81 234.21V224.00M291.71 224.00H295.91" stroke="#000" stroke-width="1.2"/>
<rect x="290.66" y="234.81" width="6.30" height="35.49" fill="url(#check)" stroke="#000" stroke-width="1.2"/>
<path d="M302.61 230.81V226.79M300.51 226.79H304.71" stroke="#000" stroke-width="1.2"/>
<rect x="299.46" y="231.41" width="6.30" height="38.89" fill="url(#gray)" stroke="#000" stroke-width="1.2"/>
<path d="M394.65 243.72V235.10M392.55 235.10H396.75" stroke="#000" stroke-width="1.2"/>
<rect x="391.50" y="244.32" width="6.30" height="25.98" fill="url(#check)" stroke="#000" stroke-width="1.2"/>
<rect x="415.52" y="220.70" width="6.30" height="49.60" fill="#fff" stroke="#000" stroke-width="1.2"/>
<rect x="424.32" y="206.47" width="6.30" height="63.83" fill="url(#hatch)" stroke="#000" stroke-width="1.2"/>
<rect x="433.12" y="184.83" width="6.30" height="85.47" fill="#000" stroke="#000" stroke-width="1.2"/>
<text font-size="8.95" fill="#1a1a1a" transform="translate(132.35 283.70) rotate(-45)" text-anchor="end">control</text>
<text font-size="8.95" fill="#1a1a1a" transform="translate(184.77 282.10) rotate(-45)" text-anchor="end">LCL DRB1*03,04</text>
<text font-size="8.95" fill="#1a1a1a" transform="translate(235.19 282.10) rotate(-45)" text-anchor="end">LCL DRB1* 03,12</text>
<text font-size="8.95" fill="#1a1a1a" transform="translate(285.61 282.10) rotate(-45)" text-anchor="end">LCL DRB1*13, 15</text>
<text font-size="8.95" fill="#1a1a1a" transform="translate(336.03 282.10) rotate(-45)" text-anchor="end">LCL DRB1*11,12</text>
<text font-size="8.95" fill="#1a1a1a" transform="translate(386.45 282.10) rotate(-45)" text-anchor="end">LCL DRB1* 03,11</text>
<text font-size="8.95" fill="#1a1a1a" transform="translate(436.87 282.10) rotate(-45)" text-anchor="end">LCL DRB1*04</text></svg>
</body></html>
